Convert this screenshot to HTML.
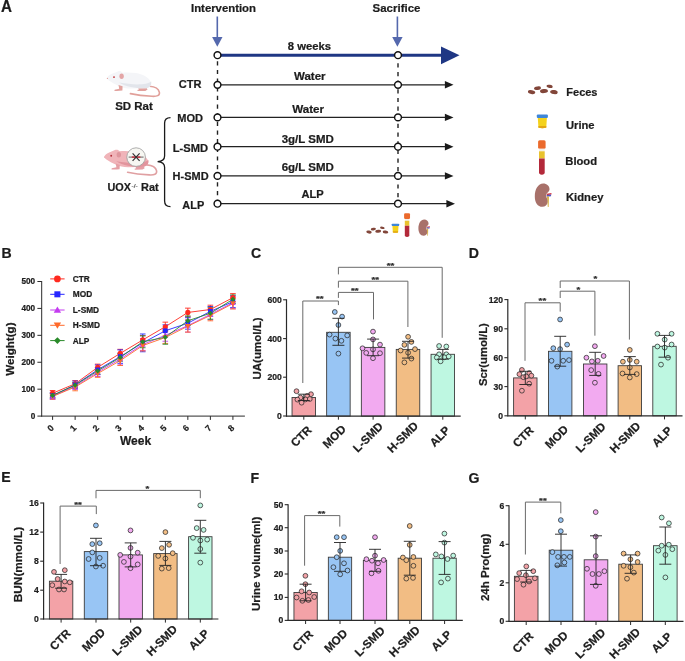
<!DOCTYPE html>
<html><head><meta charset="utf-8"><style>
html,body{margin:0;padding:0;background:#fff;}
body{width:685px;height:661px;overflow:hidden;}
svg{display:block;font-family:"Liberation Sans", sans-serif;will-change:transform;}
text{stroke:#1c1c1c;stroke-width:0.22px;paint-order:stroke;}
</style></head><body>
<svg width="685" height="661" viewBox="0 0 685 661">
<rect width="685" height="661" fill="#fff"/>
<text transform="translate(0.9,11.75) scale(1,1.075)" font-size="15.2" font-weight="bold" fill="#1c1c1c">A</text>
<text x="191" y="11.8" font-size="11" font-weight="bold" fill="#1c1c1c" textLength="65" lengthAdjust="spacingAndGlyphs">Intervention</text>
<text x="372.6" y="11.8" font-size="11" font-weight="bold" fill="#1c1c1c" textLength="47.8" lengthAdjust="spacingAndGlyphs">Sacrifice</text>
<line x1="217.3" y1="16.5" x2="217.3" y2="38" stroke="#5468ad" stroke-width="1.6"/>
<path d="M212.10000000000002,37 L222.5,37 L217.3,46.8 Z" fill="#5468ad"/>
<line x1="397.4" y1="16.5" x2="397.4" y2="38" stroke="#5468ad" stroke-width="1.6"/>
<path d="M392.2,37 L402.59999999999997,37 L397.4,46.8 Z" fill="#5468ad"/>
<line x1="217.5" y1="55.2" x2="442" y2="55.2" stroke="#1f3784" stroke-width="2.9"/>
<path d="M441,46.4 L459.5,55.3 L441,64.3 Z" fill="#1f3784"/>
<line x1="217.5" y1="61.25" x2="217.5" y2="201" stroke="#222" stroke-width="1.4" stroke-dasharray="4.2,4.45"/>
<line x1="398.0" y1="63.3" x2="398.0" y2="201" stroke="#222" stroke-width="1.4" stroke-dasharray="4.2,4.45"/>
<line x1="217.5" y1="84.8" x2="447.5" y2="84.8" stroke="#222" stroke-width="1.3"/>
<path d="M444.9,81.1 L453.5,84.8 L444.9,88.5 Z" fill="#1a1a1a"/>
<line x1="217.5" y1="117.4" x2="447.5" y2="117.4" stroke="#222" stroke-width="1.3"/>
<path d="M444.9,113.7 L453.5,117.4 L444.9,121.10000000000001 Z" fill="#1a1a1a"/>
<line x1="217.5" y1="146.7" x2="447.5" y2="146.7" stroke="#222" stroke-width="1.3"/>
<path d="M444.9,143.0 L453.5,146.7 L444.9,150.39999999999998 Z" fill="#1a1a1a"/>
<line x1="217.5" y1="175.9" x2="447.5" y2="175.9" stroke="#222" stroke-width="1.3"/>
<path d="M444.9,172.20000000000002 L453.5,175.9 L444.9,179.6 Z" fill="#1a1a1a"/>
<line x1="217.5" y1="203.7" x2="449" y2="203.7" stroke="#222" stroke-width="1.3"/>
<path d="M446.4,200.0 L455,203.7 L446.4,207.39999999999998 Z" fill="#1a1a1a"/>
<circle cx="217.5" cy="55.2" r="3.4" fill="#fff" stroke="#111" stroke-width="1.45"/>
<circle cx="398.0" cy="55.2" r="3.4" fill="#fff" stroke="#111" stroke-width="1.45"/>
<circle cx="217.5" cy="84.8" r="3.4" fill="#fff" stroke="#111" stroke-width="1.45"/>
<circle cx="398.0" cy="84.8" r="3.4" fill="#fff" stroke="#111" stroke-width="1.45"/>
<circle cx="217.5" cy="117.4" r="3.4" fill="#fff" stroke="#111" stroke-width="1.45"/>
<circle cx="398.0" cy="117.4" r="3.4" fill="#fff" stroke="#111" stroke-width="1.45"/>
<circle cx="217.5" cy="146.7" r="3.4" fill="#fff" stroke="#111" stroke-width="1.45"/>
<circle cx="398.0" cy="146.7" r="3.4" fill="#fff" stroke="#111" stroke-width="1.45"/>
<circle cx="217.5" cy="175.9" r="3.4" fill="#fff" stroke="#111" stroke-width="1.45"/>
<circle cx="398.0" cy="175.9" r="3.4" fill="#fff" stroke="#111" stroke-width="1.45"/>
<circle cx="217.5" cy="203.7" r="3.4" fill="#fff" stroke="#111" stroke-width="1.45"/>
<circle cx="398.0" cy="203.7" r="3.4" fill="#fff" stroke="#111" stroke-width="1.45"/>
<text x="178.8" y="88.3" font-size="11" font-weight="bold" fill="#1c1c1c" textLength="22.7" lengthAdjust="spacingAndGlyphs">CTR</text>
<text x="177.2" y="121.9" font-size="11" font-weight="bold" fill="#1c1c1c" textLength="25.8" lengthAdjust="spacingAndGlyphs">MOD</text>
<text x="172.8" y="152.0" font-size="11" font-weight="bold" fill="#1c1c1c" textLength="35.3" lengthAdjust="spacingAndGlyphs">L-SMD</text>
<text x="172.6" y="180.4" font-size="11" font-weight="bold" fill="#1c1c1c" textLength="36.0" lengthAdjust="spacingAndGlyphs">H-SMD</text>
<text x="182.3" y="209.2" font-size="11" font-weight="bold" fill="#1c1c1c" textLength="21.9" lengthAdjust="spacingAndGlyphs">ALP</text>
<text x="287.8" y="50.2" font-size="10.6" font-weight="bold" fill="#1c1c1c" textLength="43.2" lengthAdjust="spacingAndGlyphs">8 weeks</text>
<text x="294" y="79.8" font-size="10.6" font-weight="bold" fill="#1c1c1c" textLength="31.5" lengthAdjust="spacingAndGlyphs">Water</text>
<text x="292.2" y="112.8" font-size="10.6" font-weight="bold" fill="#1c1c1c" textLength="31.8" lengthAdjust="spacingAndGlyphs">Water</text>
<text x="281.7" y="142.6" font-size="10.6" font-weight="bold" fill="#1c1c1c" textLength="52.1" lengthAdjust="spacingAndGlyphs">3g/L SMD</text>
<text x="281.7" y="170.6" font-size="10.6" font-weight="bold" fill="#1c1c1c" textLength="52.1" lengthAdjust="spacingAndGlyphs">6g/L SMD</text>
<text x="301.4" y="197.8" font-size="10.6" font-weight="bold" fill="#1c1c1c" textLength="22.2" lengthAdjust="spacingAndGlyphs">ALP</text>
<path d="M170.5,117.6 C166.5,117.6 164.6,119.5 164.6,123 L164.6,156 C164.6,159.6 162.5,161.3 157.6,161.6 C162.5,161.9 164.6,163.6 164.6,167.2 L164.6,201 C164.6,204.5 166.5,206.6 170.5,206.6" fill="none" stroke="#1a1a1a" stroke-width="1.3"/>
<g transform="translate(0,0)"><path d="M149.5,86.3 C154,86.6 158.6,88.6 159.4,92.3 C159.9,95.5 157,96.6 152,96.3 C146,96 138,95.3 130.4,93.6" fill="none" stroke="#e1a09a" stroke-width="1.6" stroke-linecap="round"/><path d="M137.5,87 L146,86.6 L147.5,89.6 L145.3,90.9 L137.8,91.1 C137,90.5 137.3,89.8 139,89.6 Z" fill="#e2a29e"/><path d="M107.1,78.3 C107.6,76.4 109.5,74.6 112.5,73.6 C114.5,72.9 116.5,71.8 118.3,71.2 C120,70.7 121.6,71.5 122.6,72.7 C126,72.2 131,72.3 136,73.0 C142.5,74 148.5,77.2 150.6,81.5 C151.8,84.5 150.5,87.6 146.5,88.2 L131,88.6 C126,88.6 122,87.6 119,86.2 C115.5,84.6 111.5,82.3 109.3,80.8 C108.2,80.1 107.3,79.3 107.1,78.3 Z" fill="#f4f5f8"/><path d="M119,82.6 C127,87.8 140,88.8 146.5,88.2 C150.5,87.3 151.7,84.5 151.2,81.5 C147,84.6 136,85.6 119,82.6 Z" fill="#e2e5eb"/><path d="M118.5,85 L122.6,86.3 L122.4,90.6 C119,91 116,91.1 114.4,90.8 C113.9,89.8 115,89.3 117,89.2 L119.2,88.7 Z" fill="#e2a29e"/><ellipse cx="121.6" cy="76.2" rx="2.2" ry="2.7" fill="#e3a5a6"/><circle cx="114" cy="77.1" r="0.95" fill="#c0353a"/><circle cx="107.4" cy="78.4" r="0.6" fill="#e2a29e"/></g>
<text x="115.2" y="109.6" font-size="11" font-weight="bold" fill="#1c1c1c" textLength="37.6" lengthAdjust="spacingAndGlyphs">SD Rat</text>
<g transform="translate(-2.8,78.6)"><path d="M149.5,86.3 C154,86.6 158.6,88.6 159.4,92.3 C159.9,95.5 157,96.6 152,96.3 C146,96 138,95.3 130.4,93.6" fill="none" stroke="#e0a0a2" stroke-width="1.6" stroke-linecap="round"/><path d="M137.5,87 L146,86.6 L147.5,89.6 L145.3,90.9 L137.8,91.1 C137,90.5 137.3,89.8 139,89.6 Z" fill="#e59fa5"/><path d="M107.1,78.3 C107.6,76.4 109.5,74.6 112.5,73.6 C114.5,72.9 116.5,71.8 118.3,71.2 C120,70.7 121.6,71.5 122.6,72.7 C126,72.2 131,72.3 136,73.0 C142.5,74 148.5,77.2 150.6,81.5 C151.8,84.5 150.5,87.6 146.5,88.2 L131,88.6 C126,88.6 122,87.6 119,86.2 C115.5,84.6 111.5,82.3 109.3,80.8 C108.2,80.1 107.3,79.3 107.1,78.3 Z" fill="#f0b4b9"/><path d="M119,82.6 C127,87.8 140,88.8 146.5,88.2 C150.5,87.3 151.7,84.5 151.2,81.5 C147,84.6 136,85.6 119,82.6 Z" fill="#e2949d"/><path d="M118.5,85 L122.6,86.3 L122.4,90.6 C119,91 116,91.1 114.4,90.8 C113.9,89.8 115,89.3 117,89.2 L119.2,88.7 Z" fill="#e59fa5"/><ellipse cx="121.6" cy="76.2" rx="2.2" ry="2.7" fill="#de959c"/><circle cx="114" cy="77.1" r="0.95" fill="#b0303a"/><circle cx="107.4" cy="78.4" r="0.6" fill="#e59fa5"/></g>
<circle cx="136.1" cy="157.1" r="9.3" fill="#f7f7f2" stroke="#9a9a9a" stroke-width="0.8"/>
<line x1="128.6" y1="157.1" x2="143.6" y2="157.1" stroke="#555" stroke-width="0.9"/>
<line x1="131.8" y1="157.1" x2="140.4" y2="157.1" stroke="#d02838" stroke-width="1.4"/>
<path d="M132.6,153.4 L139.6,160.8 M139.6,153.4 L132.6,160.8" stroke="#333" stroke-width="1.2"/>
<text x="107.4" y="191" font-size="11" font-weight="bold" fill="#1c1c1c" textLength="23.5" lengthAdjust="spacingAndGlyphs">UOX</text>
<text x="131.6" y="187.9" font-size="5.4" font-weight="normal" fill="#333" textLength="6.2" lengthAdjust="spacingAndGlyphs" style="stroke-width:0.1px">-/-</text>
<text x="141.0" y="191" font-size="11" font-weight="bold" fill="#1c1c1c" textLength="17.6" lengthAdjust="spacingAndGlyphs">Rat</text>
<ellipse cx="531.60" cy="92.10" rx="3.70" ry="2.00" fill="#82463a" transform="rotate(12 531.60 92.10)"/>
<ellipse cx="537.50" cy="88.20" rx="3.50" ry="1.80" fill="#82463a" transform="rotate(-8 537.50 88.20)"/>
<ellipse cx="544.00" cy="91.10" rx="4.00" ry="2.00" fill="#82463a" transform="rotate(-6 544.00 91.10)"/>
<ellipse cx="549.60" cy="86.40" rx="3.10" ry="1.60" fill="#82463a" transform="rotate(10 549.60 86.40)"/>
<ellipse cx="553.90" cy="92.10" rx="3.80" ry="2.00" fill="#82463a" transform="rotate(8 553.90 92.10)"/>
<path d="M537.80,117.80 L546.90,117.80 L546.30,127.70 Q542.35,128.60 538.40,127.70 Z" fill="#f4d21c"/>
<path d="M538.40,125.90 L546.30,125.90 L546.20,127.70 Q542.35,128.60 538.50,127.70 Z" fill="#e2a514"/>
<rect x="536.80" y="114.40" width="11.10" height="3.60" rx="1.00" fill="#3f86d8"/>
<rect x="538.10" y="140.30" width="7.50" height="8.50" rx="1.50" fill="#eb6a2c"/>
<rect x="539.00" y="148.80" width="5.70" height="2.60" fill="#f4f0e8"/>
<rect x="539.00" y="151.30" width="5.70" height="7.20" fill="#e9c22e"/>
<path d="M539.00,158.40 L544.70,158.40 L544.70,173.30 Q541.85,176.30 539.00,173.30 Z" fill="#b3293a"/>
<path d="M546.60,193.70 L551.50,192.90 L551.40,194.50 L546.80,195.20 Z" fill="#d8333b"/>
<path d="M546.60,195.00 L551.20,194.50 L551.00,196.30 L546.80,196.70 Z" fill="#5558c0"/>
<path d="M546.90,196.40 L549.00,196.40 L548.70,206.90 L547.80,206.90 Z" fill="#d9b44a"/>
<path d="M543.20,183.40 C546.70,183.40 549.70,185.90 549.50,189.40 C549.30,191.90 546.20,192.90 546.10,195.20 C546.00,197.40 547.80,198.90 547.60,201.90 C547.40,204.90 545.20,206.80 542.30,206.80 C537.70,206.80 534.80,202.40 534.80,196.40 C534.80,188.90 538.20,183.40 543.20,183.40 Z" fill="#a8716a"/>
<text x="566.3" y="95.8" font-size="11" font-weight="bold" fill="#1c1c1c" textLength="31.2" lengthAdjust="spacingAndGlyphs">Feces</text>
<text x="566" y="128.6" font-size="11" font-weight="bold" fill="#1c1c1c" textLength="28.6" lengthAdjust="spacingAndGlyphs">Urine</text>
<text x="565.3" y="165" font-size="11" font-weight="bold" fill="#1c1c1c" textLength="31.8" lengthAdjust="spacingAndGlyphs">Blood</text>
<text x="566" y="201.4" font-size="11" font-weight="bold" fill="#1c1c1c" textLength="37.4" lengthAdjust="spacingAndGlyphs">Kidney</text>
<ellipse cx="369.00" cy="232.02" rx="2.74" ry="1.48" fill="#82463a" transform="rotate(12 369.00 232.02)"/>
<ellipse cx="373.37" cy="229.13" rx="2.59" ry="1.33" fill="#82463a" transform="rotate(-8 373.37 229.13)"/>
<ellipse cx="378.18" cy="231.28" rx="2.96" ry="1.48" fill="#82463a" transform="rotate(-6 378.18 231.28)"/>
<ellipse cx="382.32" cy="227.80" rx="2.29" ry="1.18" fill="#82463a" transform="rotate(10 382.32 227.80)"/>
<ellipse cx="385.50" cy="232.02" rx="2.81" ry="1.48" fill="#82463a" transform="rotate(8 385.50 232.02)"/>
<path d="M392.46,225.94 L398.47,225.94 L398.07,232.48 Q395.46,233.07 392.86,232.48 Z" fill="#f4d21c"/>
<path d="M392.86,231.29 L398.07,231.29 L398.00,232.48 Q395.46,233.07 392.92,232.48 Z" fill="#e2a514"/>
<rect x="391.80" y="223.70" width="7.33" height="2.38" rx="0.66" fill="#3f86d8"/>
<rect x="404.10" y="213.20" width="5.93" height="5.86" rx="1.19" fill="#eb6a2c"/>
<rect x="404.81" y="219.06" width="4.50" height="1.79" fill="#f4f0e8"/>
<rect x="404.81" y="220.79" width="4.50" height="4.97" fill="#e9c22e"/>
<path d="M404.81,225.69 L409.31,225.69 L409.31,235.97 Q407.06,238.04 404.81,235.97 Z" fill="#b3293a"/>
<path d="M426.56,226.71 L429.94,226.16 L429.87,227.26 L426.69,227.74 Z" fill="#d8333b"/>
<path d="M426.56,227.60 L429.73,227.26 L429.59,228.50 L426.69,228.78 Z" fill="#5558c0"/>
<path d="M426.76,228.57 L428.21,228.57 L428.00,235.81 L427.38,235.81 Z" fill="#d9b44a"/>
<path d="M424.21,219.60 C426.62,219.60 428.69,221.32 428.56,223.74 C428.42,225.47 426.28,226.16 426.21,227.74 C426.14,229.26 427.38,230.29 427.25,232.36 C427.11,234.44 425.59,235.75 423.59,235.75 C420.42,235.75 418.41,232.71 418.41,228.57 C418.41,223.39 420.76,219.60 424.21,219.60 Z" fill="#a8716a"/>
<text x="1.5" y="258" font-size="14.1" font-weight="bold" fill="#1c1c1c">B</text>
<line x1="41.7" y1="281" x2="41.7" y2="416.6" stroke="#2a2a2a" stroke-width="1"/>
<line x1="41.2" y1="416.1" x2="244.9" y2="416.1" stroke="#2a2a2a" stroke-width="1"/>
<line x1="37.400000000000006" y1="416.1" x2="41.7" y2="416.1" stroke="#2a2a2a" stroke-width="1"/>
<text x="35.2" y="419.0" font-size="8.2" font-weight="bold" fill="#1c1c1c" text-anchor="end">0</text>
<line x1="37.400000000000006" y1="389.18" x2="41.7" y2="389.18" stroke="#2a2a2a" stroke-width="1"/>
<text x="35.2" y="392.08" font-size="8.2" font-weight="bold" fill="#1c1c1c" text-anchor="end">100</text>
<line x1="37.400000000000006" y1="362.26000000000005" x2="41.7" y2="362.26000000000005" stroke="#2a2a2a" stroke-width="1"/>
<text x="35.2" y="365.16" font-size="8.2" font-weight="bold" fill="#1c1c1c" text-anchor="end">200</text>
<line x1="37.400000000000006" y1="335.34000000000003" x2="41.7" y2="335.34000000000003" stroke="#2a2a2a" stroke-width="1"/>
<text x="35.2" y="338.24" font-size="8.2" font-weight="bold" fill="#1c1c1c" text-anchor="end">300</text>
<line x1="37.400000000000006" y1="308.42" x2="41.7" y2="308.42" stroke="#2a2a2a" stroke-width="1"/>
<text x="35.2" y="311.32" font-size="8.2" font-weight="bold" fill="#1c1c1c" text-anchor="end">400</text>
<line x1="37.400000000000006" y1="281.5" x2="41.7" y2="281.5" stroke="#2a2a2a" stroke-width="1"/>
<text x="35.2" y="284.4" font-size="8.2" font-weight="bold" fill="#1c1c1c" text-anchor="end">500</text>
<line x1="52.6" y1="416.1" x2="52.6" y2="419.90000000000003" stroke="#2a2a2a" stroke-width="1"/>
<g transform="translate(50.60,428.0) rotate(-45)"><text x="0" y="3.1" font-size="8.8" font-weight="bold" fill="#1c1c1c" text-anchor="middle">0</text></g>
<line x1="75.14" y1="416.1" x2="75.14" y2="419.90000000000003" stroke="#2a2a2a" stroke-width="1"/>
<g transform="translate(73.14,428.0) rotate(-45)"><text x="0" y="3.1" font-size="8.8" font-weight="bold" fill="#1c1c1c" text-anchor="middle">1</text></g>
<line x1="97.68" y1="416.1" x2="97.68" y2="419.90000000000003" stroke="#2a2a2a" stroke-width="1"/>
<g transform="translate(95.68,428.0) rotate(-45)"><text x="0" y="3.1" font-size="8.8" font-weight="bold" fill="#1c1c1c" text-anchor="middle">2</text></g>
<line x1="120.22" y1="416.1" x2="120.22" y2="419.90000000000003" stroke="#2a2a2a" stroke-width="1"/>
<g transform="translate(118.22,428.0) rotate(-45)"><text x="0" y="3.1" font-size="8.8" font-weight="bold" fill="#1c1c1c" text-anchor="middle">3</text></g>
<line x1="142.76" y1="416.1" x2="142.76" y2="419.90000000000003" stroke="#2a2a2a" stroke-width="1"/>
<g transform="translate(140.76,428.0) rotate(-45)"><text x="0" y="3.1" font-size="8.8" font-weight="bold" fill="#1c1c1c" text-anchor="middle">4</text></g>
<line x1="165.29999999999998" y1="416.1" x2="165.29999999999998" y2="419.90000000000003" stroke="#2a2a2a" stroke-width="1"/>
<g transform="translate(163.30,428.0) rotate(-45)"><text x="0" y="3.1" font-size="8.8" font-weight="bold" fill="#1c1c1c" text-anchor="middle">5</text></g>
<line x1="187.84" y1="416.1" x2="187.84" y2="419.90000000000003" stroke="#2a2a2a" stroke-width="1"/>
<g transform="translate(185.84,428.0) rotate(-45)"><text x="0" y="3.1" font-size="8.8" font-weight="bold" fill="#1c1c1c" text-anchor="middle">6</text></g>
<line x1="210.38" y1="416.1" x2="210.38" y2="419.90000000000003" stroke="#2a2a2a" stroke-width="1"/>
<g transform="translate(208.38,428.0) rotate(-45)"><text x="0" y="3.1" font-size="8.8" font-weight="bold" fill="#1c1c1c" text-anchor="middle">7</text></g>
<line x1="232.92" y1="416.1" x2="232.92" y2="419.90000000000003" stroke="#2a2a2a" stroke-width="1"/>
<g transform="translate(230.92,428.0) rotate(-45)"><text x="0" y="3.1" font-size="8.8" font-weight="bold" fill="#1c1c1c" text-anchor="middle">8</text></g>
<text x="135.5" y="445.3" font-size="12.0" font-weight="bold" fill="#1c1c1c" text-anchor="middle">Week</text>
<g transform="translate(13.6,349.1) rotate(-90)"><text x="0" y="0" font-size="11.6" font-weight="bold" fill="#1c1c1c" text-anchor="middle">Weight(g)</text></g>
<polyline points="52.60,393.22 75.14,383.80 97.68,367.37 120.22,353.38 142.76,339.92 165.30,326.73 187.84,312.46 210.38,309.50 232.92,297.65" fill="none" stroke="#ff2a1f" stroke-width="0.9"/>
<line x1="52.6" y1="390.526" x2="52.6" y2="395.91" stroke="#ff2a1f" stroke-width="0.9"/>
<line x1="49.800000000000004" y1="390.526" x2="55.4" y2="390.526" stroke="#ff2a1f" stroke-width="0.9"/>
<line x1="49.800000000000004" y1="395.91" x2="55.4" y2="395.91" stroke="#ff2a1f" stroke-width="0.9"/>
<line x1="75.14" y1="380.5656000000001" x2="75.14" y2="387.0264" stroke="#ff2a1f" stroke-width="0.9"/>
<line x1="72.34" y1="380.5656000000001" x2="77.94" y2="380.5656000000001" stroke="#ff2a1f" stroke-width="0.9"/>
<line x1="72.34" y1="387.0264" x2="77.94" y2="387.0264" stroke="#ff2a1f" stroke-width="0.9"/>
<line x1="97.68" y1="364.1444000000001" x2="97.68" y2="370.6052" stroke="#ff2a1f" stroke-width="0.9"/>
<line x1="94.88000000000001" y1="364.1444000000001" x2="100.48" y2="364.1444000000001" stroke="#ff2a1f" stroke-width="0.9"/>
<line x1="94.88000000000001" y1="370.6052" x2="100.48" y2="370.6052" stroke="#ff2a1f" stroke-width="0.9"/>
<line x1="120.22" y1="349.33840000000004" x2="120.22" y2="357.41440000000006" stroke="#ff2a1f" stroke-width="0.9"/>
<line x1="117.42" y1="349.33840000000004" x2="123.02" y2="349.33840000000004" stroke="#ff2a1f" stroke-width="0.9"/>
<line x1="117.42" y1="357.41440000000006" x2="123.02" y2="357.41440000000006" stroke="#ff2a1f" stroke-width="0.9"/>
<line x1="142.76" y1="335.6092" x2="142.76" y2="344.22360000000003" stroke="#ff2a1f" stroke-width="0.9"/>
<line x1="139.95999999999998" y1="335.6092" x2="145.56" y2="335.6092" stroke="#ff2a1f" stroke-width="0.9"/>
<line x1="139.95999999999998" y1="344.22360000000003" x2="145.56" y2="344.22360000000003" stroke="#ff2a1f" stroke-width="0.9"/>
<line x1="165.29999999999998" y1="322.14920000000006" x2="165.29999999999998" y2="331.302" stroke="#ff2a1f" stroke-width="0.9"/>
<line x1="162.49999999999997" y1="322.14920000000006" x2="168.1" y2="322.14920000000006" stroke="#ff2a1f" stroke-width="0.9"/>
<line x1="162.49999999999997" y1="331.302" x2="168.1" y2="331.302" stroke="#ff2a1f" stroke-width="0.9"/>
<line x1="187.84" y1="308.1508" x2="187.84" y2="316.76520000000005" stroke="#ff2a1f" stroke-width="0.9"/>
<line x1="185.04" y1="308.1508" x2="190.64000000000001" y2="308.1508" stroke="#ff2a1f" stroke-width="0.9"/>
<line x1="185.04" y1="316.76520000000005" x2="190.64000000000001" y2="316.76520000000005" stroke="#ff2a1f" stroke-width="0.9"/>
<line x1="210.38" y1="305.1896" x2="210.38" y2="313.80400000000003" stroke="#ff2a1f" stroke-width="0.9"/>
<line x1="207.57999999999998" y1="305.1896" x2="213.18" y2="305.1896" stroke="#ff2a1f" stroke-width="0.9"/>
<line x1="207.57999999999998" y1="313.80400000000003" x2="213.18" y2="313.80400000000003" stroke="#ff2a1f" stroke-width="0.9"/>
<line x1="232.92" y1="293.61400000000003" x2="232.92" y2="301.69000000000005" stroke="#ff2a1f" stroke-width="0.9"/>
<line x1="230.11999999999998" y1="293.61400000000003" x2="235.72" y2="293.61400000000003" stroke="#ff2a1f" stroke-width="0.9"/>
<line x1="230.11999999999998" y1="301.69000000000005" x2="235.72" y2="301.69000000000005" stroke="#ff2a1f" stroke-width="0.9"/>
<polyline points="52.60,395.64 75.14,384.87 97.68,369.80 120.22,356.61 142.76,342.88 165.30,330.76 187.84,323.23 210.38,311.38 232.92,301.69" fill="none" stroke="#2626ff" stroke-width="0.9"/>
<line x1="52.6" y1="392.9488" x2="52.6" y2="398.3328" stroke="#2626ff" stroke-width="0.9"/>
<line x1="49.800000000000004" y1="392.9488" x2="55.4" y2="392.9488" stroke="#2626ff" stroke-width="0.9"/>
<line x1="49.800000000000004" y1="398.3328" x2="55.4" y2="398.3328" stroke="#2626ff" stroke-width="0.9"/>
<line x1="75.14" y1="381.10400000000004" x2="75.14" y2="388.64160000000004" stroke="#2626ff" stroke-width="0.9"/>
<line x1="72.34" y1="381.10400000000004" x2="77.94" y2="381.10400000000004" stroke="#2626ff" stroke-width="0.9"/>
<line x1="72.34" y1="388.64160000000004" x2="77.94" y2="388.64160000000004" stroke="#2626ff" stroke-width="0.9"/>
<line x1="97.68" y1="364.95200000000006" x2="97.68" y2="374.64320000000004" stroke="#2626ff" stroke-width="0.9"/>
<line x1="94.88000000000001" y1="364.95200000000006" x2="100.48" y2="364.95200000000006" stroke="#2626ff" stroke-width="0.9"/>
<line x1="94.88000000000001" y1="374.64320000000004" x2="100.48" y2="374.64320000000004" stroke="#2626ff" stroke-width="0.9"/>
<line x1="120.22" y1="349.8768" x2="120.22" y2="363.33680000000004" stroke="#2626ff" stroke-width="0.9"/>
<line x1="117.42" y1="349.8768" x2="123.02" y2="349.8768" stroke="#2626ff" stroke-width="0.9"/>
<line x1="117.42" y1="363.33680000000004" x2="123.02" y2="363.33680000000004" stroke="#2626ff" stroke-width="0.9"/>
<line x1="142.76" y1="333.994" x2="142.76" y2="351.76120000000003" stroke="#2626ff" stroke-width="0.9"/>
<line x1="139.95999999999998" y1="333.994" x2="145.56" y2="333.994" stroke="#2626ff" stroke-width="0.9"/>
<line x1="139.95999999999998" y1="351.76120000000003" x2="145.56" y2="351.76120000000003" stroke="#2626ff" stroke-width="0.9"/>
<line x1="165.29999999999998" y1="324.8412" x2="165.29999999999998" y2="336.686" stroke="#2626ff" stroke-width="0.9"/>
<line x1="162.49999999999997" y1="324.8412" x2="168.1" y2="324.8412" stroke="#2626ff" stroke-width="0.9"/>
<line x1="162.49999999999997" y1="336.686" x2="168.1" y2="336.686" stroke="#2626ff" stroke-width="0.9"/>
<line x1="187.84" y1="317.3036" x2="187.84" y2="329.1484" stroke="#2626ff" stroke-width="0.9"/>
<line x1="185.04" y1="317.3036" x2="190.64000000000001" y2="317.3036" stroke="#2626ff" stroke-width="0.9"/>
<line x1="185.04" y1="329.1484" x2="190.64000000000001" y2="329.1484" stroke="#2626ff" stroke-width="0.9"/>
<line x1="210.38" y1="306.53560000000004" x2="210.38" y2="316.2268" stroke="#2626ff" stroke-width="0.9"/>
<line x1="207.57999999999998" y1="306.53560000000004" x2="213.18" y2="306.53560000000004" stroke="#2626ff" stroke-width="0.9"/>
<line x1="207.57999999999998" y1="316.2268" x2="213.18" y2="316.2268" stroke="#2626ff" stroke-width="0.9"/>
<line x1="232.92" y1="295.7676000000001" x2="232.92" y2="307.61240000000004" stroke="#2626ff" stroke-width="0.9"/>
<line x1="230.11999999999998" y1="295.7676000000001" x2="235.72" y2="295.7676000000001" stroke="#2626ff" stroke-width="0.9"/>
<line x1="230.11999999999998" y1="307.61240000000004" x2="235.72" y2="307.61240000000004" stroke="#2626ff" stroke-width="0.9"/>
<polyline points="52.60,396.18 75.14,386.22 97.68,372.22 120.22,359.03 142.76,344.49 165.30,335.34 187.84,325.65 210.38,314.34 232.92,302.77" fill="none" stroke="#c43cf0" stroke-width="0.9"/>
<line x1="52.6" y1="392.94880000000006" x2="52.6" y2="399.4096" stroke="#c43cf0" stroke-width="0.9"/>
<line x1="49.800000000000004" y1="392.94880000000006" x2="55.4" y2="392.94880000000006" stroke="#c43cf0" stroke-width="0.9"/>
<line x1="49.800000000000004" y1="399.4096" x2="55.4" y2="399.4096" stroke="#c43cf0" stroke-width="0.9"/>
<line x1="75.14" y1="382.98840000000007" x2="75.14" y2="389.4492" stroke="#c43cf0" stroke-width="0.9"/>
<line x1="72.34" y1="382.98840000000007" x2="77.94" y2="382.98840000000007" stroke="#c43cf0" stroke-width="0.9"/>
<line x1="72.34" y1="389.4492" x2="77.94" y2="389.4492" stroke="#c43cf0" stroke-width="0.9"/>
<line x1="97.68" y1="367.9132" x2="97.68" y2="376.52760000000006" stroke="#c43cf0" stroke-width="0.9"/>
<line x1="94.88000000000001" y1="367.9132" x2="100.48" y2="367.9132" stroke="#c43cf0" stroke-width="0.9"/>
<line x1="94.88000000000001" y1="376.52760000000006" x2="100.48" y2="376.52760000000006" stroke="#c43cf0" stroke-width="0.9"/>
<line x1="120.22" y1="353.10720000000003" x2="120.22" y2="364.952" stroke="#c43cf0" stroke-width="0.9"/>
<line x1="117.42" y1="353.10720000000003" x2="123.02" y2="353.10720000000003" stroke="#c43cf0" stroke-width="0.9"/>
<line x1="117.42" y1="364.952" x2="123.02" y2="364.952" stroke="#c43cf0" stroke-width="0.9"/>
<line x1="142.76" y1="338.57040000000006" x2="142.76" y2="350.4152" stroke="#c43cf0" stroke-width="0.9"/>
<line x1="139.95999999999998" y1="338.57040000000006" x2="145.56" y2="338.57040000000006" stroke="#c43cf0" stroke-width="0.9"/>
<line x1="139.95999999999998" y1="350.4152" x2="145.56" y2="350.4152" stroke="#c43cf0" stroke-width="0.9"/>
<line x1="165.29999999999998" y1="329.41760000000005" x2="165.29999999999998" y2="341.2624" stroke="#c43cf0" stroke-width="0.9"/>
<line x1="162.49999999999997" y1="329.41760000000005" x2="168.1" y2="329.41760000000005" stroke="#c43cf0" stroke-width="0.9"/>
<line x1="162.49999999999997" y1="341.2624" x2="168.1" y2="341.2624" stroke="#c43cf0" stroke-width="0.9"/>
<line x1="187.84" y1="319.18800000000005" x2="187.84" y2="332.10960000000006" stroke="#c43cf0" stroke-width="0.9"/>
<line x1="185.04" y1="319.18800000000005" x2="190.64000000000001" y2="319.18800000000005" stroke="#c43cf0" stroke-width="0.9"/>
<line x1="185.04" y1="332.10960000000006" x2="190.64000000000001" y2="332.10960000000006" stroke="#c43cf0" stroke-width="0.9"/>
<line x1="210.38" y1="308.9584" x2="210.38" y2="319.7264" stroke="#c43cf0" stroke-width="0.9"/>
<line x1="207.57999999999998" y1="308.9584" x2="213.18" y2="308.9584" stroke="#c43cf0" stroke-width="0.9"/>
<line x1="207.57999999999998" y1="319.7264" x2="213.18" y2="319.7264" stroke="#c43cf0" stroke-width="0.9"/>
<line x1="232.92" y1="296.84440000000006" x2="232.92" y2="308.6892" stroke="#c43cf0" stroke-width="0.9"/>
<line x1="230.11999999999998" y1="296.84440000000006" x2="235.72" y2="296.84440000000006" stroke="#c43cf0" stroke-width="0.9"/>
<line x1="230.11999999999998" y1="308.6892" x2="235.72" y2="308.6892" stroke="#c43cf0" stroke-width="0.9"/>
<polyline points="52.60,396.45 75.14,387.03 97.68,373.57 120.22,360.64 142.76,345.57 165.30,337.49 187.84,326.19 210.38,315.42 232.92,303.57" fill="none" stroke="#ff6a2a" stroke-width="0.9"/>
<line x1="52.6" y1="393.75640000000004" x2="52.6" y2="399.14040000000006" stroke="#ff6a2a" stroke-width="0.9"/>
<line x1="49.800000000000004" y1="393.75640000000004" x2="55.4" y2="393.75640000000004" stroke="#ff6a2a" stroke-width="0.9"/>
<line x1="49.800000000000004" y1="399.14040000000006" x2="55.4" y2="399.14040000000006" stroke="#ff6a2a" stroke-width="0.9"/>
<line x1="75.14" y1="383.2576" x2="75.14" y2="390.7952" stroke="#ff6a2a" stroke-width="0.9"/>
<line x1="72.34" y1="383.2576" x2="77.94" y2="383.2576" stroke="#ff6a2a" stroke-width="0.9"/>
<line x1="72.34" y1="390.7952" x2="77.94" y2="390.7952" stroke="#ff6a2a" stroke-width="0.9"/>
<line x1="97.68" y1="369.79760000000005" x2="97.68" y2="377.33520000000004" stroke="#ff6a2a" stroke-width="0.9"/>
<line x1="94.88000000000001" y1="369.79760000000005" x2="100.48" y2="369.79760000000005" stroke="#ff6a2a" stroke-width="0.9"/>
<line x1="94.88000000000001" y1="377.33520000000004" x2="100.48" y2="377.33520000000004" stroke="#ff6a2a" stroke-width="0.9"/>
<line x1="120.22" y1="355.79920000000004" x2="120.22" y2="365.4904" stroke="#ff6a2a" stroke-width="0.9"/>
<line x1="117.42" y1="355.79920000000004" x2="123.02" y2="355.79920000000004" stroke="#ff6a2a" stroke-width="0.9"/>
<line x1="117.42" y1="365.4904" x2="123.02" y2="365.4904" stroke="#ff6a2a" stroke-width="0.9"/>
<line x1="142.76" y1="340.1856" x2="142.76" y2="350.95360000000005" stroke="#ff6a2a" stroke-width="0.9"/>
<line x1="139.95999999999998" y1="340.1856" x2="145.56" y2="340.1856" stroke="#ff6a2a" stroke-width="0.9"/>
<line x1="139.95999999999998" y1="350.95360000000005" x2="145.56" y2="350.95360000000005" stroke="#ff6a2a" stroke-width="0.9"/>
<line x1="165.29999999999998" y1="331.57120000000003" x2="165.29999999999998" y2="343.416" stroke="#ff6a2a" stroke-width="0.9"/>
<line x1="162.49999999999997" y1="331.57120000000003" x2="168.1" y2="331.57120000000003" stroke="#ff6a2a" stroke-width="0.9"/>
<line x1="162.49999999999997" y1="343.416" x2="168.1" y2="343.416" stroke="#ff6a2a" stroke-width="0.9"/>
<line x1="187.84" y1="320.26480000000004" x2="187.84" y2="332.1096" stroke="#ff6a2a" stroke-width="0.9"/>
<line x1="185.04" y1="320.26480000000004" x2="190.64000000000001" y2="320.26480000000004" stroke="#ff6a2a" stroke-width="0.9"/>
<line x1="185.04" y1="332.1096" x2="190.64000000000001" y2="332.1096" stroke="#ff6a2a" stroke-width="0.9"/>
<line x1="210.38" y1="310.03520000000003" x2="210.38" y2="320.80320000000006" stroke="#ff6a2a" stroke-width="0.9"/>
<line x1="207.57999999999998" y1="310.03520000000003" x2="213.18" y2="310.03520000000003" stroke="#ff6a2a" stroke-width="0.9"/>
<line x1="207.57999999999998" y1="320.80320000000006" x2="213.18" y2="320.80320000000006" stroke="#ff6a2a" stroke-width="0.9"/>
<line x1="232.92" y1="298.1904" x2="232.92" y2="308.95840000000004" stroke="#ff6a2a" stroke-width="0.9"/>
<line x1="230.11999999999998" y1="298.1904" x2="235.72" y2="298.1904" stroke="#ff6a2a" stroke-width="0.9"/>
<line x1="230.11999999999998" y1="308.95840000000004" x2="235.72" y2="308.95840000000004" stroke="#ff6a2a" stroke-width="0.9"/>
<polyline points="52.60,395.37 75.14,385.14 97.68,370.87 120.22,357.41 142.76,341.80 165.30,337.22 187.84,320.80 210.38,313.27 232.92,299.27" fill="none" stroke="#2a8a2a" stroke-width="0.9"/>
<line x1="52.6" y1="393.218" x2="52.6" y2="397.5252" stroke="#2a8a2a" stroke-width="0.9"/>
<line x1="49.800000000000004" y1="393.218" x2="55.4" y2="393.218" stroke="#2a8a2a" stroke-width="0.9"/>
<line x1="49.800000000000004" y1="397.5252" x2="55.4" y2="397.5252" stroke="#2a8a2a" stroke-width="0.9"/>
<line x1="75.14" y1="382.45000000000005" x2="75.14" y2="387.83400000000006" stroke="#2a8a2a" stroke-width="0.9"/>
<line x1="72.34" y1="382.45000000000005" x2="77.94" y2="382.45000000000005" stroke="#2a8a2a" stroke-width="0.9"/>
<line x1="72.34" y1="387.83400000000006" x2="77.94" y2="387.83400000000006" stroke="#2a8a2a" stroke-width="0.9"/>
<line x1="97.68" y1="367.64400000000006" x2="97.68" y2="374.1048" stroke="#2a8a2a" stroke-width="0.9"/>
<line x1="94.88000000000001" y1="367.64400000000006" x2="100.48" y2="367.64400000000006" stroke="#2a8a2a" stroke-width="0.9"/>
<line x1="94.88000000000001" y1="374.1048" x2="100.48" y2="374.1048" stroke="#2a8a2a" stroke-width="0.9"/>
<line x1="120.22" y1="353.6456" x2="120.22" y2="361.1832" stroke="#2a8a2a" stroke-width="0.9"/>
<line x1="117.42" y1="353.6456" x2="123.02" y2="353.6456" stroke="#2a8a2a" stroke-width="0.9"/>
<line x1="117.42" y1="361.1832" x2="123.02" y2="361.1832" stroke="#2a8a2a" stroke-width="0.9"/>
<line x1="142.76" y1="335.87840000000006" x2="142.76" y2="347.7232" stroke="#2a8a2a" stroke-width="0.9"/>
<line x1="139.95999999999998" y1="335.87840000000006" x2="145.56" y2="335.87840000000006" stroke="#2a8a2a" stroke-width="0.9"/>
<line x1="139.95999999999998" y1="347.7232" x2="145.56" y2="347.7232" stroke="#2a8a2a" stroke-width="0.9"/>
<line x1="165.29999999999998" y1="330.2252000000001" x2="165.29999999999998" y2="344.22360000000003" stroke="#2a8a2a" stroke-width="0.9"/>
<line x1="162.49999999999997" y1="330.2252000000001" x2="168.1" y2="330.2252000000001" stroke="#2a8a2a" stroke-width="0.9"/>
<line x1="162.49999999999997" y1="344.22360000000003" x2="168.1" y2="344.22360000000003" stroke="#2a8a2a" stroke-width="0.9"/>
<line x1="187.84" y1="315.9576" x2="187.84" y2="325.6488" stroke="#2a8a2a" stroke-width="0.9"/>
<line x1="185.04" y1="315.9576" x2="190.64000000000001" y2="315.9576" stroke="#2a8a2a" stroke-width="0.9"/>
<line x1="185.04" y1="325.6488" x2="190.64000000000001" y2="325.6488" stroke="#2a8a2a" stroke-width="0.9"/>
<line x1="210.38" y1="307.3432" x2="210.38" y2="319.188" stroke="#2a8a2a" stroke-width="0.9"/>
<line x1="207.57999999999998" y1="307.3432" x2="213.18" y2="307.3432" stroke="#2a8a2a" stroke-width="0.9"/>
<line x1="207.57999999999998" y1="319.188" x2="213.18" y2="319.188" stroke="#2a8a2a" stroke-width="0.9"/>
<line x1="232.92" y1="294.96" x2="232.92" y2="303.5744" stroke="#2a8a2a" stroke-width="0.9"/>
<line x1="230.11999999999998" y1="294.96" x2="235.72" y2="294.96" stroke="#2a8a2a" stroke-width="0.9"/>
<line x1="230.11999999999998" y1="303.5744" x2="235.72" y2="303.5744" stroke="#2a8a2a" stroke-width="0.9"/>
<circle cx="52.60" cy="393.22" r="2.6" fill="#ff2a1f"/>
<circle cx="75.14" cy="383.80" r="2.6" fill="#ff2a1f"/>
<circle cx="97.68" cy="367.37" r="2.6" fill="#ff2a1f"/>
<circle cx="120.22" cy="353.38" r="2.6" fill="#ff2a1f"/>
<circle cx="142.76" cy="339.92" r="2.6" fill="#ff2a1f"/>
<circle cx="165.30" cy="326.73" r="2.6" fill="#ff2a1f"/>
<circle cx="187.84" cy="312.46" r="2.6" fill="#ff2a1f"/>
<circle cx="210.38" cy="309.50" r="2.6" fill="#ff2a1f"/>
<circle cx="232.92" cy="297.65" r="2.6" fill="#ff2a1f"/>
<rect x="50.26" y="393.30" width="4.68" height="4.68" fill="#2626ff"/>
<rect x="72.80" y="382.53" width="4.68" height="4.68" fill="#2626ff"/>
<rect x="95.34" y="367.46" width="4.68" height="4.68" fill="#2626ff"/>
<rect x="117.88" y="354.27" width="4.68" height="4.68" fill="#2626ff"/>
<rect x="140.42" y="340.54" width="4.68" height="4.68" fill="#2626ff"/>
<rect x="162.96" y="328.42" width="4.68" height="4.68" fill="#2626ff"/>
<rect x="185.50" y="320.89" width="4.68" height="4.68" fill="#2626ff"/>
<rect x="208.04" y="309.04" width="4.68" height="4.68" fill="#2626ff"/>
<rect x="230.58" y="299.35" width="4.68" height="4.68" fill="#2626ff"/>
<path d="M52.60,393.45 L55.46,398.39 L49.74,398.39 Z" fill="#c43cf0"/>
<path d="M75.14,383.49 L78.00,388.43 L72.28,388.43 Z" fill="#c43cf0"/>
<path d="M97.68,369.49 L100.54,374.43 L94.82,374.43 Z" fill="#c43cf0"/>
<path d="M120.22,356.30 L123.08,361.24 L117.36,361.24 Z" fill="#c43cf0"/>
<path d="M142.76,341.76 L145.62,346.70 L139.90,346.70 Z" fill="#c43cf0"/>
<path d="M165.30,332.61 L168.16,337.55 L162.44,337.55 Z" fill="#c43cf0"/>
<path d="M187.84,322.92 L190.70,327.86 L184.98,327.86 Z" fill="#c43cf0"/>
<path d="M210.38,311.61 L213.24,316.55 L207.52,316.55 Z" fill="#c43cf0"/>
<path d="M232.92,300.04 L235.78,304.98 L230.06,304.98 Z" fill="#c43cf0"/>
<path d="M52.60,399.18 L55.46,394.24 L49.74,394.24 Z" fill="#ff6a2a"/>
<path d="M75.14,389.76 L78.00,384.82 L72.28,384.82 Z" fill="#ff6a2a"/>
<path d="M97.68,376.30 L100.54,371.36 L94.82,371.36 Z" fill="#ff6a2a"/>
<path d="M120.22,363.37 L123.08,358.43 L117.36,358.43 Z" fill="#ff6a2a"/>
<path d="M142.76,348.30 L145.62,343.36 L139.90,343.36 Z" fill="#ff6a2a"/>
<path d="M165.30,340.22 L168.16,335.28 L162.44,335.28 Z" fill="#ff6a2a"/>
<path d="M187.84,328.92 L190.70,323.98 L184.98,323.98 Z" fill="#ff6a2a"/>
<path d="M210.38,318.15 L213.24,313.21 L207.52,313.21 Z" fill="#ff6a2a"/>
<path d="M232.92,306.30 L235.78,301.36 L230.06,301.36 Z" fill="#ff6a2a"/>
<path d="M52.60,392.77 L55.20,395.37 L52.60,397.97 L50.00,395.37 Z" fill="#2a8a2a"/>
<path d="M75.14,382.54 L77.74,385.14 L75.14,387.74 L72.54,385.14 Z" fill="#2a8a2a"/>
<path d="M97.68,368.27 L100.28,370.87 L97.68,373.47 L95.08,370.87 Z" fill="#2a8a2a"/>
<path d="M120.22,354.81 L122.82,357.41 L120.22,360.01 L117.62,357.41 Z" fill="#2a8a2a"/>
<path d="M142.76,339.20 L145.36,341.80 L142.76,344.40 L140.16,341.80 Z" fill="#2a8a2a"/>
<path d="M165.30,334.62 L167.90,337.22 L165.30,339.82 L162.70,337.22 Z" fill="#2a8a2a"/>
<path d="M187.84,318.20 L190.44,320.80 L187.84,323.40 L185.24,320.80 Z" fill="#2a8a2a"/>
<path d="M210.38,310.67 L212.98,313.27 L210.38,315.87 L207.78,313.27 Z" fill="#2a8a2a"/>
<path d="M232.92,296.67 L235.52,299.27 L232.92,301.87 L230.32,299.27 Z" fill="#2a8a2a"/>
<line x1="50.2" y1="278.9" x2="64.6" y2="278.9" stroke="#ff2a1f" stroke-width="1"/>
<circle cx="57.40" cy="278.90" r="3.35" fill="#ff2a1f"/>
<text x="72.8" y="281.9" font-size="8.3" font-weight="bold" fill="#1c1c1c">CTR</text>
<line x1="50.2" y1="294.3" x2="64.6" y2="294.3" stroke="#2626ff" stroke-width="1"/>
<rect x="54.38" y="291.29" width="6.03" height="6.03" fill="#2626ff"/>
<text x="72.8" y="297.3" font-size="8.3" font-weight="bold" fill="#1c1c1c">MOD</text>
<line x1="50.2" y1="310.0" x2="64.6" y2="310.0" stroke="#c43cf0" stroke-width="1"/>
<path d="M57.40,306.48 L61.09,312.85 L53.71,312.85 Z" fill="#c43cf0"/>
<text x="72.8" y="313.0" font-size="8.3" font-weight="bold" fill="#1c1c1c">L-SMD</text>
<line x1="50.2" y1="325.3" x2="64.6" y2="325.3" stroke="#ff6a2a" stroke-width="1"/>
<path d="M57.40,328.82 L61.09,322.45 L53.71,322.45 Z" fill="#ff6a2a"/>
<text x="72.8" y="328.3" font-size="8.3" font-weight="bold" fill="#1c1c1c">H-SMD</text>
<line x1="50.2" y1="340.6" x2="64.6" y2="340.6" stroke="#2a8a2a" stroke-width="1"/>
<path d="M57.40,337.25 L60.75,340.60 L57.40,343.95 L54.05,340.60 Z" fill="#2a8a2a"/>
<text x="72.8" y="343.6" font-size="8.3" font-weight="bold" fill="#1c1c1c">ALP</text>
<text x="251.0" y="258.0" font-size="14.1" font-weight="bold" fill="#1c1c1c">C</text>
<path d="M302.8,383.0 L302.8,301.0 L338.4,301.0 L338.4,305.1" fill="none" stroke="#6a6a6a" stroke-width="1"/>
<text x="319.8" y="301.4" font-size="7.6" font-weight="bold" fill="#2a2a2a" text-anchor="middle" textLength="7.6" lengthAdjust="spacingAndGlyphs">**</text>
<path d="M338.4,297.9 L338.4,292.4 L373.5,292.4 L373.5,319.4" fill="none" stroke="#6a6a6a" stroke-width="1"/>
<text x="354.7" y="292.8" font-size="7.6" font-weight="bold" fill="#2a2a2a" text-anchor="middle" textLength="7.6" lengthAdjust="spacingAndGlyphs">**</text>
<path d="M338.4,287.7 L338.4,281.2 L407.9,281.2 L407.9,327.0" fill="none" stroke="#6a6a6a" stroke-width="1"/>
<text x="375.2" y="281.6" font-size="7.6" font-weight="bold" fill="#2a2a2a" text-anchor="middle" textLength="7.6" lengthAdjust="spacingAndGlyphs">**</text>
<path d="M338.4,274.4 L338.4,267.3 L442.2,267.3 L442.2,337.8" fill="none" stroke="#6a6a6a" stroke-width="1"/>
<text x="390.5" y="267.7" font-size="7.6" font-weight="bold" fill="#2a2a2a" text-anchor="middle" textLength="7.6" lengthAdjust="spacingAndGlyphs">**</text>
<rect x="292.05" y="397.5" width="23.5" height="18.60" fill="#f3a2a7" stroke="#3c3c3c" stroke-width="0.9"/>
<rect x="326.65" y="332.3" width="23.5" height="83.80" fill="#98c5f4" stroke="#3c3c3c" stroke-width="0.9"/>
<rect x="361.35" y="347.4" width="23.5" height="68.70" fill="#f2aaf0" stroke="#3c3c3c" stroke-width="0.9"/>
<rect x="396.25" y="349.4" width="23.5" height="66.70" fill="#f2bd84" stroke="#3c3c3c" stroke-width="0.9"/>
<rect x="431.05" y="354.3" width="23.5" height="61.80" fill="#bef7e1" stroke="#3c3c3c" stroke-width="0.9"/>
<circle cx="296.5" cy="391.2" r="2.4" fill="#f3a2a7" stroke="#2a2a2a" stroke-width="0.75"/>
<circle cx="311" cy="394.2" r="2.4" fill="#f3a2a7" stroke="#2a2a2a" stroke-width="0.75"/>
<circle cx="307.1" cy="396" r="2.4" fill="#f3a2a7" stroke="#2a2a2a" stroke-width="0.75"/>
<circle cx="300.4" cy="397.6" r="2.4" fill="#f3a2a7" stroke="#2a2a2a" stroke-width="0.75"/>
<circle cx="297.4" cy="399.6" r="2.4" fill="#f3a2a7" stroke="#2a2a2a" stroke-width="0.75"/>
<circle cx="305.6" cy="399.4" r="2.4" fill="#f3a2a7" stroke="#2a2a2a" stroke-width="0.75"/>
<circle cx="309.8" cy="399" r="2.4" fill="#f3a2a7" stroke="#2a2a2a" stroke-width="0.75"/>
<circle cx="301.6" cy="402.7" r="2.4" fill="#f3a2a7" stroke="#2a2a2a" stroke-width="0.75"/>
<circle cx="334.8" cy="312" r="2.4" fill="#98c5f4" stroke="#2a2a2a" stroke-width="0.75"/>
<circle cx="342.1" cy="316.6" r="2.4" fill="#98c5f4" stroke="#2a2a2a" stroke-width="0.75"/>
<circle cx="338.4" cy="325" r="2.4" fill="#98c5f4" stroke="#2a2a2a" stroke-width="0.75"/>
<circle cx="329.6" cy="334.6" r="2.4" fill="#98c5f4" stroke="#2a2a2a" stroke-width="0.75"/>
<circle cx="347.2" cy="335.4" r="2.4" fill="#98c5f4" stroke="#2a2a2a" stroke-width="0.75"/>
<circle cx="335.4" cy="338.6" r="2.4" fill="#98c5f4" stroke="#2a2a2a" stroke-width="0.75"/>
<circle cx="341.4" cy="340.8" r="2.4" fill="#98c5f4" stroke="#2a2a2a" stroke-width="0.75"/>
<circle cx="338.4" cy="353.6" r="2.4" fill="#98c5f4" stroke="#2a2a2a" stroke-width="0.75"/>
<circle cx="373" cy="331.6" r="2.4" fill="#f2aaf0" stroke="#2a2a2a" stroke-width="0.75"/>
<circle cx="373" cy="339.4" r="2.4" fill="#f2aaf0" stroke="#2a2a2a" stroke-width="0.75"/>
<circle cx="380" cy="344.6" r="2.4" fill="#f2aaf0" stroke="#2a2a2a" stroke-width="0.75"/>
<circle cx="362.5" cy="348.3" r="2.4" fill="#f2aaf0" stroke="#2a2a2a" stroke-width="0.75"/>
<circle cx="373" cy="349.4" r="2.4" fill="#f2aaf0" stroke="#2a2a2a" stroke-width="0.75"/>
<circle cx="366.2" cy="352.9" r="2.4" fill="#f2aaf0" stroke="#2a2a2a" stroke-width="0.75"/>
<circle cx="380" cy="353.2" r="2.4" fill="#f2aaf0" stroke="#2a2a2a" stroke-width="0.75"/>
<circle cx="373" cy="358.2" r="2.4" fill="#f2aaf0" stroke="#2a2a2a" stroke-width="0.75"/>
<circle cx="408.1" cy="336.8" r="2.4" fill="#f2bd84" stroke="#2a2a2a" stroke-width="0.75"/>
<circle cx="411.4" cy="341.9" r="2.4" fill="#f2bd84" stroke="#2a2a2a" stroke-width="0.75"/>
<circle cx="404.4" cy="344.9" r="2.4" fill="#f2bd84" stroke="#2a2a2a" stroke-width="0.75"/>
<circle cx="400.6" cy="350.5" r="2.4" fill="#f2bd84" stroke="#2a2a2a" stroke-width="0.75"/>
<circle cx="415" cy="349.1" r="2.4" fill="#f2bd84" stroke="#2a2a2a" stroke-width="0.75"/>
<circle cx="408.1" cy="352.7" r="2.4" fill="#f2bd84" stroke="#2a2a2a" stroke-width="0.75"/>
<circle cx="411.4" cy="358.6" r="2.4" fill="#f2bd84" stroke="#2a2a2a" stroke-width="0.75"/>
<circle cx="404.4" cy="362.4" r="2.4" fill="#f2bd84" stroke="#2a2a2a" stroke-width="0.75"/>
<circle cx="439.1" cy="346" r="2.4" fill="#bef7e1" stroke="#2a2a2a" stroke-width="0.75"/>
<circle cx="446.3" cy="346.5" r="2.4" fill="#bef7e1" stroke="#2a2a2a" stroke-width="0.75"/>
<circle cx="439.1" cy="354.3" r="2.4" fill="#bef7e1" stroke="#2a2a2a" stroke-width="0.75"/>
<circle cx="446.3" cy="354.3" r="2.4" fill="#bef7e1" stroke="#2a2a2a" stroke-width="0.75"/>
<circle cx="436.8" cy="357.5" r="2.4" fill="#bef7e1" stroke="#2a2a2a" stroke-width="0.75"/>
<circle cx="444.3" cy="357.3" r="2.4" fill="#bef7e1" stroke="#2a2a2a" stroke-width="0.75"/>
<circle cx="448.7" cy="356.5" r="2.4" fill="#bef7e1" stroke="#2a2a2a" stroke-width="0.75"/>
<circle cx="440.6" cy="361.3" r="2.4" fill="#bef7e1" stroke="#2a2a2a" stroke-width="0.75"/>
<line x1="303.8" y1="394.2" x2="303.8" y2="400.5" stroke="#222" stroke-width="0.9"/>
<line x1="297.8" y1="394.2" x2="309.8" y2="394.2" stroke="#222" stroke-width="0.9"/>
<line x1="297.8" y1="400.5" x2="309.8" y2="400.5" stroke="#222" stroke-width="0.9"/>
<line x1="338.4" y1="318.3" x2="338.4" y2="345.3" stroke="#222" stroke-width="0.9"/>
<line x1="332.4" y1="318.3" x2="344.4" y2="318.3" stroke="#222" stroke-width="0.9"/>
<line x1="332.4" y1="345.3" x2="344.4" y2="345.3" stroke="#222" stroke-width="0.9"/>
<line x1="373.1" y1="339.1" x2="373.1" y2="355.7" stroke="#222" stroke-width="0.9"/>
<line x1="367.1" y1="339.1" x2="379.1" y2="339.1" stroke="#222" stroke-width="0.9"/>
<line x1="367.1" y1="355.7" x2="379.1" y2="355.7" stroke="#222" stroke-width="0.9"/>
<line x1="408.0" y1="341.3" x2="408.0" y2="358.1" stroke="#222" stroke-width="0.9"/>
<line x1="402.0" y1="341.3" x2="414.0" y2="341.3" stroke="#222" stroke-width="0.9"/>
<line x1="402.0" y1="358.1" x2="414.0" y2="358.1" stroke="#222" stroke-width="0.9"/>
<line x1="442.8" y1="349.4" x2="442.8" y2="359.2" stroke="#222" stroke-width="0.9"/>
<line x1="436.8" y1="349.4" x2="448.8" y2="349.4" stroke="#222" stroke-width="0.9"/>
<line x1="436.8" y1="359.2" x2="448.8" y2="359.2" stroke="#222" stroke-width="0.9"/>
<line x1="286.5" y1="299.3" x2="286.5" y2="416.6" stroke="#2a2a2a" stroke-width="1.2"/>
<line x1="286.0" y1="416.1" x2="460.7" y2="416.1" stroke="#2a2a2a" stroke-width="1.2"/>
<line x1="283.1" y1="299.8" x2="286.5" y2="299.8" stroke="#2a2a2a" stroke-width="1.1"/>
<text x="281.8" y="302.8" font-size="8.6" font-weight="bold" fill="#1c1c1c" text-anchor="end">600</text>
<line x1="283.1" y1="338.6" x2="286.5" y2="338.6" stroke="#2a2a2a" stroke-width="1.1"/>
<text x="281.8" y="341.6" font-size="8.6" font-weight="bold" fill="#1c1c1c" text-anchor="end">400</text>
<line x1="283.1" y1="377.2" x2="286.5" y2="377.2" stroke="#2a2a2a" stroke-width="1.1"/>
<text x="281.8" y="380.2" font-size="8.6" font-weight="bold" fill="#1c1c1c" text-anchor="end">200</text>
<line x1="283.1" y1="416.0" x2="286.5" y2="416.0" stroke="#2a2a2a" stroke-width="1.1"/>
<text x="281.8" y="419.0" font-size="8.6" font-weight="bold" fill="#1c1c1c" text-anchor="end">0</text>
<line x1="303.8" y1="416.1" x2="303.8" y2="419.70000000000005" stroke="#2a2a2a" stroke-width="1"/>
<g transform="translate(301.05,436.35) rotate(-45)"><text x="0" y="4.0" font-size="11.6" font-weight="bold" fill="#1c1c1c" text-anchor="middle">CTR</text></g>
<line x1="338.4" y1="416.1" x2="338.4" y2="419.70000000000005" stroke="#2a2a2a" stroke-width="1"/>
<g transform="translate(334.25,436.55) rotate(-45)"><text x="0" y="4.0" font-size="11.6" font-weight="bold" fill="#1c1c1c" text-anchor="middle">MOD</text></g>
<line x1="373.1" y1="416.1" x2="373.1" y2="419.70000000000005" stroke="#2a2a2a" stroke-width="1"/>
<g transform="translate(367.95,437.15) rotate(-45)"><text x="0" y="4.0" font-size="11.6" font-weight="bold" fill="#1c1c1c" text-anchor="middle">L-SMD</text></g>
<line x1="408.0" y1="416.1" x2="408.0" y2="419.70000000000005" stroke="#2a2a2a" stroke-width="1"/>
<g transform="translate(402.65,437.15) rotate(-45)"><text x="0" y="4.0" font-size="11.6" font-weight="bold" fill="#1c1c1c" text-anchor="middle">H-SMD</text></g>
<line x1="442.8" y1="416.1" x2="442.8" y2="419.70000000000005" stroke="#2a2a2a" stroke-width="1"/>
<g transform="translate(439.75,436.35) rotate(-45)"><text x="0" y="4.0" font-size="11.6" font-weight="bold" fill="#1c1c1c" text-anchor="middle">ALP</text></g>
<g transform="translate(260.7,348.5) rotate(-90)"><text x="0" y="0" font-size="11.6" font-weight="bold" fill="#1c1c1c" text-anchor="middle" textLength="62" lengthAdjust="spacingAndGlyphs">UA(umol/L)</text></g>
<text x="468.8" y="258.1" font-size="14.1" font-weight="bold" fill="#1c1c1c">D</text>
<path d="M525.0,360.8 L525.0,302.8 L560.2,302.8 L560.2,311.6" fill="none" stroke="#6a6a6a" stroke-width="1"/>
<text x="542.4" y="303.2" font-size="7.6" font-weight="bold" fill="#2a2a2a" text-anchor="middle" textLength="7.6" lengthAdjust="spacingAndGlyphs">**</text>
<path d="M560.2,298.0 L560.2,291.2 L594.9,291.2 L594.9,335.7" fill="none" stroke="#6a6a6a" stroke-width="1"/>
<text x="578.3" y="291.6" font-size="7.6" font-weight="bold" fill="#2a2a2a" text-anchor="middle" textLength="3.8" lengthAdjust="spacingAndGlyphs">*</text>
<path d="M560.2,288.0 L560.2,281.0 L629.4,281.0 L629.4,339.6" fill="none" stroke="#6a6a6a" stroke-width="1"/>
<text x="595.5" y="281.4" font-size="7.6" font-weight="bold" fill="#2a2a2a" text-anchor="middle" textLength="3.8" lengthAdjust="spacingAndGlyphs">*</text>
<rect x="513.60" y="377.9" width="23.4" height="37.90" fill="#f3a2a7" stroke="#3c3c3c" stroke-width="0.9"/>
<rect x="548.50" y="351.3" width="23.4" height="64.50" fill="#98c5f4" stroke="#3c3c3c" stroke-width="0.9"/>
<rect x="583.50" y="364.0" width="23.4" height="51.80" fill="#f2aaf0" stroke="#3c3c3c" stroke-width="0.9"/>
<rect x="618.10" y="365.7" width="23.4" height="50.10" fill="#f2bd84" stroke="#3c3c3c" stroke-width="0.9"/>
<rect x="652.80" y="346.3" width="23.4" height="69.50" fill="#bef7e1" stroke="#3c3c3c" stroke-width="0.9"/>
<circle cx="521.9" cy="369.9" r="2.4" fill="#f3a2a7" stroke="#2a2a2a" stroke-width="0.75"/>
<circle cx="519.4" cy="374.2" r="2.4" fill="#f3a2a7" stroke="#2a2a2a" stroke-width="0.75"/>
<circle cx="529.2" cy="373.1" r="2.4" fill="#f3a2a7" stroke="#2a2a2a" stroke-width="0.75"/>
<circle cx="531.4" cy="375.7" r="2.4" fill="#f3a2a7" stroke="#2a2a2a" stroke-width="0.75"/>
<circle cx="523.3" cy="377.2" r="2.4" fill="#f3a2a7" stroke="#2a2a2a" stroke-width="0.75"/>
<circle cx="526.2" cy="376.4" r="2.4" fill="#f3a2a7" stroke="#2a2a2a" stroke-width="0.75"/>
<circle cx="529.2" cy="383.7" r="2.4" fill="#f3a2a7" stroke="#2a2a2a" stroke-width="0.75"/>
<circle cx="521.9" cy="390.7" r="2.4" fill="#f3a2a7" stroke="#2a2a2a" stroke-width="0.75"/>
<circle cx="560.1" cy="319.5" r="2.4" fill="#98c5f4" stroke="#2a2a2a" stroke-width="0.75"/>
<circle cx="567.1" cy="344.6" r="2.4" fill="#98c5f4" stroke="#2a2a2a" stroke-width="0.75"/>
<circle cx="553.3" cy="348.2" r="2.4" fill="#98c5f4" stroke="#2a2a2a" stroke-width="0.75"/>
<circle cx="560.1" cy="349.1" r="2.4" fill="#98c5f4" stroke="#2a2a2a" stroke-width="0.75"/>
<circle cx="551.5" cy="360.8" r="2.4" fill="#98c5f4" stroke="#2a2a2a" stroke-width="0.75"/>
<circle cx="563.2" cy="360.8" r="2.4" fill="#98c5f4" stroke="#2a2a2a" stroke-width="0.75"/>
<circle cx="569" cy="360.1" r="2.4" fill="#98c5f4" stroke="#2a2a2a" stroke-width="0.75"/>
<circle cx="557.3" cy="366.6" r="2.4" fill="#98c5f4" stroke="#2a2a2a" stroke-width="0.75"/>
<circle cx="594.9" cy="346.2" r="2.4" fill="#f2aaf0" stroke="#2a2a2a" stroke-width="0.75"/>
<circle cx="586.4" cy="357.7" r="2.4" fill="#f2aaf0" stroke="#2a2a2a" stroke-width="0.75"/>
<circle cx="603.6" cy="356" r="2.4" fill="#f2aaf0" stroke="#2a2a2a" stroke-width="0.75"/>
<circle cx="591.9" cy="361.4" r="2.4" fill="#f2aaf0" stroke="#2a2a2a" stroke-width="0.75"/>
<circle cx="597.8" cy="360.8" r="2.4" fill="#f2aaf0" stroke="#2a2a2a" stroke-width="0.75"/>
<circle cx="591.2" cy="370.1" r="2.4" fill="#f2aaf0" stroke="#2a2a2a" stroke-width="0.75"/>
<circle cx="598.5" cy="373.9" r="2.4" fill="#f2aaf0" stroke="#2a2a2a" stroke-width="0.75"/>
<circle cx="594.9" cy="382.7" r="2.4" fill="#f2aaf0" stroke="#2a2a2a" stroke-width="0.75"/>
<circle cx="629.8" cy="349.9" r="2.4" fill="#f2bd84" stroke="#2a2a2a" stroke-width="0.75"/>
<circle cx="622.9" cy="361.7" r="2.4" fill="#f2bd84" stroke="#2a2a2a" stroke-width="0.75"/>
<circle cx="629.8" cy="359.9" r="2.4" fill="#f2bd84" stroke="#2a2a2a" stroke-width="0.75"/>
<circle cx="636.7" cy="361.7" r="2.4" fill="#f2bd84" stroke="#2a2a2a" stroke-width="0.75"/>
<circle cx="629.8" cy="367.5" r="2.4" fill="#f2bd84" stroke="#2a2a2a" stroke-width="0.75"/>
<circle cx="622.5" cy="373.5" r="2.4" fill="#f2bd84" stroke="#2a2a2a" stroke-width="0.75"/>
<circle cx="636.7" cy="374.1" r="2.4" fill="#f2bd84" stroke="#2a2a2a" stroke-width="0.75"/>
<circle cx="629.8" cy="377.5" r="2.4" fill="#f2bd84" stroke="#2a2a2a" stroke-width="0.75"/>
<circle cx="657.4" cy="333.8" r="2.4" fill="#bef7e1" stroke="#2a2a2a" stroke-width="0.75"/>
<circle cx="671.6" cy="333.8" r="2.4" fill="#bef7e1" stroke="#2a2a2a" stroke-width="0.75"/>
<circle cx="664.7" cy="339.6" r="2.4" fill="#bef7e1" stroke="#2a2a2a" stroke-width="0.75"/>
<circle cx="657.4" cy="346.5" r="2.4" fill="#bef7e1" stroke="#2a2a2a" stroke-width="0.75"/>
<circle cx="664.7" cy="347.6" r="2.4" fill="#bef7e1" stroke="#2a2a2a" stroke-width="0.75"/>
<circle cx="671.6" cy="344.5" r="2.4" fill="#bef7e1" stroke="#2a2a2a" stroke-width="0.75"/>
<circle cx="668" cy="357.7" r="2.4" fill="#bef7e1" stroke="#2a2a2a" stroke-width="0.75"/>
<circle cx="661" cy="364.6" r="2.4" fill="#bef7e1" stroke="#2a2a2a" stroke-width="0.75"/>
<line x1="525.3" y1="371.3" x2="525.3" y2="384.5" stroke="#222" stroke-width="0.9"/>
<line x1="519.3" y1="371.3" x2="531.3" y2="371.3" stroke="#222" stroke-width="0.9"/>
<line x1="519.3" y1="384.5" x2="531.3" y2="384.5" stroke="#222" stroke-width="0.9"/>
<line x1="560.2" y1="336.3" x2="560.2" y2="366.2" stroke="#222" stroke-width="0.9"/>
<line x1="554.2" y1="336.3" x2="566.2" y2="336.3" stroke="#222" stroke-width="0.9"/>
<line x1="554.2" y1="366.2" x2="566.2" y2="366.2" stroke="#222" stroke-width="0.9"/>
<line x1="595.2" y1="352.3" x2="595.2" y2="375.4" stroke="#222" stroke-width="0.9"/>
<line x1="589.2" y1="352.3" x2="601.2" y2="352.3" stroke="#222" stroke-width="0.9"/>
<line x1="589.2" y1="375.4" x2="601.2" y2="375.4" stroke="#222" stroke-width="0.9"/>
<line x1="629.8" y1="356.6" x2="629.8" y2="374.4" stroke="#222" stroke-width="0.9"/>
<line x1="623.8" y1="356.6" x2="635.8" y2="356.6" stroke="#222" stroke-width="0.9"/>
<line x1="623.8" y1="374.4" x2="635.8" y2="374.4" stroke="#222" stroke-width="0.9"/>
<line x1="664.5" y1="335.4" x2="664.5" y2="357.2" stroke="#222" stroke-width="0.9"/>
<line x1="658.5" y1="335.4" x2="670.5" y2="335.4" stroke="#222" stroke-width="0.9"/>
<line x1="658.5" y1="357.2" x2="670.5" y2="357.2" stroke="#222" stroke-width="0.9"/>
<line x1="507.8" y1="299.1" x2="507.8" y2="416.3" stroke="#2a2a2a" stroke-width="1.2"/>
<line x1="507.3" y1="415.8" x2="682.5" y2="415.8" stroke="#2a2a2a" stroke-width="1.2"/>
<line x1="504.40000000000003" y1="299.6" x2="507.8" y2="299.6" stroke="#2a2a2a" stroke-width="1.1"/>
<text x="503.1" y="302.6" font-size="8.6" font-weight="bold" fill="#1c1c1c" text-anchor="end">120</text>
<line x1="504.40000000000003" y1="328.8" x2="507.8" y2="328.8" stroke="#2a2a2a" stroke-width="1.1"/>
<text x="503.1" y="331.8" font-size="8.6" font-weight="bold" fill="#1c1c1c" text-anchor="end">90</text>
<line x1="504.40000000000003" y1="357.7" x2="507.8" y2="357.7" stroke="#2a2a2a" stroke-width="1.1"/>
<text x="503.1" y="360.7" font-size="8.6" font-weight="bold" fill="#1c1c1c" text-anchor="end">60</text>
<line x1="504.40000000000003" y1="386.6" x2="507.8" y2="386.6" stroke="#2a2a2a" stroke-width="1.1"/>
<text x="503.1" y="389.6" font-size="8.6" font-weight="bold" fill="#1c1c1c" text-anchor="end">30</text>
<line x1="504.40000000000003" y1="415.8" x2="507.8" y2="415.8" stroke="#2a2a2a" stroke-width="1.1"/>
<text x="503.1" y="418.8" font-size="8.6" font-weight="bold" fill="#1c1c1c" text-anchor="end">0</text>
<line x1="525.3" y1="415.8" x2="525.3" y2="419.40000000000003" stroke="#2a2a2a" stroke-width="1"/>
<g transform="translate(523.10,436.65) rotate(-45)"><text x="0" y="4.0" font-size="11.6" font-weight="bold" fill="#1c1c1c" text-anchor="middle">CTR</text></g>
<line x1="560.2" y1="415.8" x2="560.2" y2="419.40000000000003" stroke="#2a2a2a" stroke-width="1"/>
<g transform="translate(556.60,436.85) rotate(-45)"><text x="0" y="4.0" font-size="11.6" font-weight="bold" fill="#1c1c1c" text-anchor="middle">MOD</text></g>
<line x1="595.2" y1="415.8" x2="595.2" y2="419.40000000000003" stroke="#2a2a2a" stroke-width="1"/>
<g transform="translate(590.60,437.45) rotate(-45)"><text x="0" y="4.0" font-size="11.6" font-weight="bold" fill="#1c1c1c" text-anchor="middle">L-SMD</text></g>
<line x1="629.8" y1="415.8" x2="629.8" y2="419.40000000000003" stroke="#2a2a2a" stroke-width="1"/>
<g transform="translate(625.00,437.45) rotate(-45)"><text x="0" y="4.0" font-size="11.6" font-weight="bold" fill="#1c1c1c" text-anchor="middle">H-SMD</text></g>
<line x1="664.5" y1="415.8" x2="664.5" y2="419.40000000000003" stroke="#2a2a2a" stroke-width="1"/>
<g transform="translate(662.00,436.65) rotate(-45)"><text x="0" y="4.0" font-size="11.6" font-weight="bold" fill="#1c1c1c" text-anchor="middle">ALP</text></g>
<g transform="translate(486.9,354.6) rotate(-90)"><text x="0" y="0" font-size="11.6" font-weight="bold" fill="#1c1c1c" text-anchor="middle" textLength="62.8" lengthAdjust="spacingAndGlyphs">Scr(umol/L)</text></g>
<text x="1.2" y="482.3" font-size="14.1" font-weight="bold" fill="#1c1c1c">E</text>
<path d="M60.1,564.0 L60.1,506.1 L96.3,506.1 L96.3,514.1" fill="none" stroke="#6a6a6a" stroke-width="1"/>
<text x="78.1" y="506.5" font-size="7.6" font-weight="bold" fill="#2a2a2a" text-anchor="middle" textLength="7.6" lengthAdjust="spacingAndGlyphs">**</text>
<path d="M96.0,498.3 L96.0,490.4 L200.3,490.4 L200.3,498.2" fill="none" stroke="#6a6a6a" stroke-width="1"/>
<text x="147.3" y="490.8" font-size="7.6" font-weight="bold" fill="#2a2a2a" text-anchor="middle" textLength="3.8" lengthAdjust="spacingAndGlyphs">*</text>
<rect x="49.40" y="581.2" width="23.4" height="37.80" fill="#f3a2a7" stroke="#3c3c3c" stroke-width="0.9"/>
<rect x="84.30" y="551.6" width="23.4" height="67.40" fill="#98c5f4" stroke="#3c3c3c" stroke-width="0.9"/>
<rect x="119.00" y="554.9" width="23.4" height="64.10" fill="#f2aaf0" stroke="#3c3c3c" stroke-width="0.9"/>
<rect x="153.70" y="553.6" width="23.4" height="65.40" fill="#f2bd84" stroke="#3c3c3c" stroke-width="0.9"/>
<rect x="188.60" y="536.7" width="23.4" height="82.30" fill="#bef7e1" stroke="#3c3c3c" stroke-width="0.9"/>
<circle cx="54" cy="571.9" r="2.4" fill="#f3a2a7" stroke="#2a2a2a" stroke-width="0.75"/>
<circle cx="64.8" cy="570.2" r="2.4" fill="#f3a2a7" stroke="#2a2a2a" stroke-width="0.75"/>
<circle cx="57.6" cy="579" r="2.4" fill="#f3a2a7" stroke="#2a2a2a" stroke-width="0.75"/>
<circle cx="64.8" cy="581.5" r="2.4" fill="#f3a2a7" stroke="#2a2a2a" stroke-width="0.75"/>
<circle cx="69.8" cy="582.3" r="2.4" fill="#f3a2a7" stroke="#2a2a2a" stroke-width="0.75"/>
<circle cx="52.3" cy="585.2" r="2.4" fill="#f3a2a7" stroke="#2a2a2a" stroke-width="0.75"/>
<circle cx="59" cy="589.5" r="2.4" fill="#f3a2a7" stroke="#2a2a2a" stroke-width="0.75"/>
<circle cx="64" cy="589.5" r="2.4" fill="#f3a2a7" stroke="#2a2a2a" stroke-width="0.75"/>
<circle cx="95.9" cy="525.4" r="2.4" fill="#98c5f4" stroke="#2a2a2a" stroke-width="0.75"/>
<circle cx="92.3" cy="544.1" r="2.4" fill="#98c5f4" stroke="#2a2a2a" stroke-width="0.75"/>
<circle cx="99.7" cy="543.2" r="2.4" fill="#98c5f4" stroke="#2a2a2a" stroke-width="0.75"/>
<circle cx="92.3" cy="552.4" r="2.4" fill="#98c5f4" stroke="#2a2a2a" stroke-width="0.75"/>
<circle cx="88.6" cy="559" r="2.4" fill="#98c5f4" stroke="#2a2a2a" stroke-width="0.75"/>
<circle cx="99.7" cy="557.9" r="2.4" fill="#98c5f4" stroke="#2a2a2a" stroke-width="0.75"/>
<circle cx="95.9" cy="566.5" r="2.4" fill="#98c5f4" stroke="#2a2a2a" stroke-width="0.75"/>
<circle cx="103.1" cy="565.7" r="2.4" fill="#98c5f4" stroke="#2a2a2a" stroke-width="0.75"/>
<circle cx="130.5" cy="530.4" r="2.4" fill="#f2aaf0" stroke="#2a2a2a" stroke-width="0.75"/>
<circle cx="130.5" cy="547.9" r="2.4" fill="#f2aaf0" stroke="#2a2a2a" stroke-width="0.75"/>
<circle cx="120.2" cy="554.9" r="2.4" fill="#f2aaf0" stroke="#2a2a2a" stroke-width="0.75"/>
<circle cx="130.5" cy="556.6" r="2.4" fill="#f2aaf0" stroke="#2a2a2a" stroke-width="0.75"/>
<circle cx="137.7" cy="552.7" r="2.4" fill="#f2aaf0" stroke="#2a2a2a" stroke-width="0.75"/>
<circle cx="123.9" cy="561.9" r="2.4" fill="#f2aaf0" stroke="#2a2a2a" stroke-width="0.75"/>
<circle cx="137.7" cy="564.4" r="2.4" fill="#f2aaf0" stroke="#2a2a2a" stroke-width="0.75"/>
<circle cx="130.5" cy="568.2" r="2.4" fill="#f2aaf0" stroke="#2a2a2a" stroke-width="0.75"/>
<circle cx="165.4" cy="532.1" r="2.4" fill="#f2bd84" stroke="#2a2a2a" stroke-width="0.75"/>
<circle cx="169.1" cy="544.8" r="2.4" fill="#f2bd84" stroke="#2a2a2a" stroke-width="0.75"/>
<circle cx="161.8" cy="548.1" r="2.4" fill="#f2bd84" stroke="#2a2a2a" stroke-width="0.75"/>
<circle cx="172.7" cy="553.2" r="2.4" fill="#f2bd84" stroke="#2a2a2a" stroke-width="0.75"/>
<circle cx="158.2" cy="555.9" r="2.4" fill="#f2bd84" stroke="#2a2a2a" stroke-width="0.75"/>
<circle cx="165.4" cy="558.5" r="2.4" fill="#f2bd84" stroke="#2a2a2a" stroke-width="0.75"/>
<circle cx="161.8" cy="568.6" r="2.4" fill="#f2bd84" stroke="#2a2a2a" stroke-width="0.75"/>
<circle cx="168.7" cy="568.1" r="2.4" fill="#f2bd84" stroke="#2a2a2a" stroke-width="0.75"/>
<circle cx="200.3" cy="505.4" r="2.4" fill="#bef7e1" stroke="#2a2a2a" stroke-width="0.75"/>
<circle cx="196.7" cy="528.1" r="2.4" fill="#bef7e1" stroke="#2a2a2a" stroke-width="0.75"/>
<circle cx="203.6" cy="529.9" r="2.4" fill="#bef7e1" stroke="#2a2a2a" stroke-width="0.75"/>
<circle cx="193" cy="537.8" r="2.4" fill="#bef7e1" stroke="#2a2a2a" stroke-width="0.75"/>
<circle cx="200.3" cy="540.5" r="2.4" fill="#bef7e1" stroke="#2a2a2a" stroke-width="0.75"/>
<circle cx="207.2" cy="539.6" r="2.4" fill="#bef7e1" stroke="#2a2a2a" stroke-width="0.75"/>
<circle cx="200.3" cy="549" r="2.4" fill="#bef7e1" stroke="#2a2a2a" stroke-width="0.75"/>
<circle cx="200.3" cy="562.6" r="2.4" fill="#bef7e1" stroke="#2a2a2a" stroke-width="0.75"/>
<line x1="61.1" y1="574.4" x2="61.1" y2="588.2" stroke="#222" stroke-width="0.9"/>
<line x1="55.1" y1="574.4" x2="67.1" y2="574.4" stroke="#222" stroke-width="0.9"/>
<line x1="55.1" y1="588.2" x2="67.1" y2="588.2" stroke="#222" stroke-width="0.9"/>
<line x1="96.0" y1="538.3" x2="96.0" y2="565.7" stroke="#222" stroke-width="0.9"/>
<line x1="90.0" y1="538.3" x2="102.0" y2="538.3" stroke="#222" stroke-width="0.9"/>
<line x1="90.0" y1="565.7" x2="102.0" y2="565.7" stroke="#222" stroke-width="0.9"/>
<line x1="130.7" y1="542.9" x2="130.7" y2="566.9" stroke="#222" stroke-width="0.9"/>
<line x1="124.69999999999999" y1="542.9" x2="136.7" y2="542.9" stroke="#222" stroke-width="0.9"/>
<line x1="124.69999999999999" y1="566.9" x2="136.7" y2="566.9" stroke="#222" stroke-width="0.9"/>
<line x1="165.4" y1="541.4" x2="165.4" y2="565.4" stroke="#222" stroke-width="0.9"/>
<line x1="159.4" y1="541.4" x2="171.4" y2="541.4" stroke="#222" stroke-width="0.9"/>
<line x1="159.4" y1="565.4" x2="171.4" y2="565.4" stroke="#222" stroke-width="0.9"/>
<line x1="200.3" y1="520.3" x2="200.3" y2="553.2" stroke="#222" stroke-width="0.9"/>
<line x1="194.3" y1="520.3" x2="206.3" y2="520.3" stroke="#222" stroke-width="0.9"/>
<line x1="194.3" y1="553.2" x2="206.3" y2="553.2" stroke="#222" stroke-width="0.9"/>
<line x1="43.6" y1="502.5" x2="43.6" y2="619.5" stroke="#2a2a2a" stroke-width="1.2"/>
<line x1="43.1" y1="619.0" x2="218.4" y2="619.0" stroke="#2a2a2a" stroke-width="1.2"/>
<line x1="40.2" y1="503.0" x2="43.6" y2="503.0" stroke="#2a2a2a" stroke-width="1.1"/>
<text x="38.9" y="506.0" font-size="8.6" font-weight="bold" fill="#1c1c1c" text-anchor="end">16</text>
<line x1="40.2" y1="532.1" x2="43.6" y2="532.1" stroke="#2a2a2a" stroke-width="1.1"/>
<text x="38.9" y="535.1" font-size="8.6" font-weight="bold" fill="#1c1c1c" text-anchor="end">12</text>
<line x1="40.2" y1="561.2" x2="43.6" y2="561.2" stroke="#2a2a2a" stroke-width="1.1"/>
<text x="38.9" y="564.2" font-size="8.6" font-weight="bold" fill="#1c1c1c" text-anchor="end">8</text>
<line x1="40.2" y1="590.2" x2="43.6" y2="590.2" stroke="#2a2a2a" stroke-width="1.1"/>
<text x="38.9" y="593.2" font-size="8.6" font-weight="bold" fill="#1c1c1c" text-anchor="end">4</text>
<line x1="40.2" y1="619.0" x2="43.6" y2="619.0" stroke="#2a2a2a" stroke-width="1.1"/>
<text x="38.9" y="622.0" font-size="8.6" font-weight="bold" fill="#1c1c1c" text-anchor="end">0</text>
<line x1="61.1" y1="619.0" x2="61.1" y2="622.6" stroke="#2a2a2a" stroke-width="1"/>
<g transform="translate(60.05,639.70) rotate(-45)"><text x="0" y="4.0" font-size="11.6" font-weight="bold" fill="#1c1c1c" text-anchor="middle">CTR</text></g>
<line x1="96.0" y1="619.0" x2="96.0" y2="622.6" stroke="#2a2a2a" stroke-width="1"/>
<g transform="translate(93.55,639.90) rotate(-45)"><text x="0" y="4.0" font-size="11.6" font-weight="bold" fill="#1c1c1c" text-anchor="middle">MOD</text></g>
<line x1="130.7" y1="619.0" x2="130.7" y2="622.6" stroke="#2a2a2a" stroke-width="1"/>
<g transform="translate(127.25,640.50) rotate(-45)"><text x="0" y="4.0" font-size="11.6" font-weight="bold" fill="#1c1c1c" text-anchor="middle">L-SMD</text></g>
<line x1="165.4" y1="619.0" x2="165.4" y2="622.6" stroke="#2a2a2a" stroke-width="1"/>
<g transform="translate(161.75,640.50) rotate(-45)"><text x="0" y="4.0" font-size="11.6" font-weight="bold" fill="#1c1c1c" text-anchor="middle">H-SMD</text></g>
<line x1="200.3" y1="619.0" x2="200.3" y2="622.6" stroke="#2a2a2a" stroke-width="1"/>
<g transform="translate(198.95,639.70) rotate(-45)"><text x="0" y="4.0" font-size="11.6" font-weight="bold" fill="#1c1c1c" text-anchor="middle">ALP</text></g>
<g transform="translate(21.6,564.5) rotate(-90)"><text x="0" y="0" font-size="11.6" font-weight="bold" fill="#1c1c1c" text-anchor="middle" textLength="75.4" lengthAdjust="spacingAndGlyphs">BUN(mmol/L)</text></g>
<text x="250.6" y="483.1" font-size="14.1" font-weight="bold" fill="#1c1c1c">F</text>
<path d="M304.6,565.7 L304.6,515.6 L339.8,515.6 L339.8,526.6" fill="none" stroke="#6a6a6a" stroke-width="1"/>
<text x="321.6" y="516.0" font-size="7.6" font-weight="bold" fill="#2a2a2a" text-anchor="middle" textLength="7.6" lengthAdjust="spacingAndGlyphs">**</text>
<rect x="293.95" y="592.5" width="23.3" height="27.90" fill="#f3a2a7" stroke="#3c3c3c" stroke-width="0.9"/>
<rect x="328.35" y="557.2" width="23.3" height="63.20" fill="#98c5f4" stroke="#3c3c3c" stroke-width="0.9"/>
<rect x="363.35" y="560.4" width="23.3" height="60.00" fill="#f2aaf0" stroke="#3c3c3c" stroke-width="0.9"/>
<rect x="398.15" y="558.2" width="23.3" height="62.20" fill="#f2bd84" stroke="#3c3c3c" stroke-width="0.9"/>
<rect x="432.95" y="558.2" width="23.3" height="62.20" fill="#bef7e1" stroke="#3c3c3c" stroke-width="0.9"/>
<circle cx="305.4" cy="575.8" r="2.4" fill="#f3a2a7" stroke="#2a2a2a" stroke-width="0.75"/>
<circle cx="305.4" cy="584.2" r="2.4" fill="#f3a2a7" stroke="#2a2a2a" stroke-width="0.75"/>
<circle cx="301.6" cy="591.3" r="2.4" fill="#f3a2a7" stroke="#2a2a2a" stroke-width="0.75"/>
<circle cx="309.2" cy="592.5" r="2.4" fill="#f3a2a7" stroke="#2a2a2a" stroke-width="0.75"/>
<circle cx="296.6" cy="597.5" r="2.4" fill="#f3a2a7" stroke="#2a2a2a" stroke-width="0.75"/>
<circle cx="314.2" cy="597" r="2.4" fill="#f3a2a7" stroke="#2a2a2a" stroke-width="0.75"/>
<circle cx="302.4" cy="600.8" r="2.4" fill="#f3a2a7" stroke="#2a2a2a" stroke-width="0.75"/>
<circle cx="308.4" cy="600" r="2.4" fill="#f3a2a7" stroke="#2a2a2a" stroke-width="0.75"/>
<circle cx="336.7" cy="537.2" r="2.4" fill="#98c5f4" stroke="#2a2a2a" stroke-width="0.75"/>
<circle cx="344" cy="537.2" r="2.4" fill="#98c5f4" stroke="#2a2a2a" stroke-width="0.75"/>
<circle cx="340.2" cy="550.9" r="2.4" fill="#98c5f4" stroke="#2a2a2a" stroke-width="0.75"/>
<circle cx="336.7" cy="557.2" r="2.4" fill="#98c5f4" stroke="#2a2a2a" stroke-width="0.75"/>
<circle cx="344" cy="563.3" r="2.4" fill="#98c5f4" stroke="#2a2a2a" stroke-width="0.75"/>
<circle cx="333.4" cy="567.2" r="2.4" fill="#98c5f4" stroke="#2a2a2a" stroke-width="0.75"/>
<circle cx="347.5" cy="570.5" r="2.4" fill="#98c5f4" stroke="#2a2a2a" stroke-width="0.75"/>
<circle cx="340.2" cy="574.3" r="2.4" fill="#98c5f4" stroke="#2a2a2a" stroke-width="0.75"/>
<circle cx="375" cy="537.2" r="2.4" fill="#f2aaf0" stroke="#2a2a2a" stroke-width="0.75"/>
<circle cx="375" cy="555.7" r="2.4" fill="#f2aaf0" stroke="#2a2a2a" stroke-width="0.75"/>
<circle cx="366.4" cy="559.2" r="2.4" fill="#f2aaf0" stroke="#2a2a2a" stroke-width="0.75"/>
<circle cx="372" cy="560.7" r="2.4" fill="#f2aaf0" stroke="#2a2a2a" stroke-width="0.75"/>
<circle cx="378" cy="563.3" r="2.4" fill="#f2aaf0" stroke="#2a2a2a" stroke-width="0.75"/>
<circle cx="383.6" cy="560" r="2.4" fill="#f2aaf0" stroke="#2a2a2a" stroke-width="0.75"/>
<circle cx="378.5" cy="570.8" r="2.4" fill="#f2aaf0" stroke="#2a2a2a" stroke-width="0.75"/>
<circle cx="371.5" cy="573.3" r="2.4" fill="#f2aaf0" stroke="#2a2a2a" stroke-width="0.75"/>
<circle cx="409.7" cy="526" r="2.4" fill="#f2bd84" stroke="#2a2a2a" stroke-width="0.75"/>
<circle cx="409.7" cy="544.9" r="2.4" fill="#f2bd84" stroke="#2a2a2a" stroke-width="0.75"/>
<circle cx="402.9" cy="557.5" r="2.4" fill="#f2bd84" stroke="#2a2a2a" stroke-width="0.75"/>
<circle cx="413.4" cy="557" r="2.4" fill="#f2bd84" stroke="#2a2a2a" stroke-width="0.75"/>
<circle cx="406.3" cy="560.2" r="2.4" fill="#f2bd84" stroke="#2a2a2a" stroke-width="0.75"/>
<circle cx="413.4" cy="565.8" r="2.4" fill="#f2bd84" stroke="#2a2a2a" stroke-width="0.75"/>
<circle cx="406.3" cy="578.6" r="2.4" fill="#f2bd84" stroke="#2a2a2a" stroke-width="0.75"/>
<circle cx="413" cy="577.9" r="2.4" fill="#f2bd84" stroke="#2a2a2a" stroke-width="0.75"/>
<circle cx="444.4" cy="533.6" r="2.4" fill="#bef7e1" stroke="#2a2a2a" stroke-width="0.75"/>
<circle cx="444.4" cy="542.6" r="2.4" fill="#bef7e1" stroke="#2a2a2a" stroke-width="0.75"/>
<circle cx="435.8" cy="554.4" r="2.4" fill="#bef7e1" stroke="#2a2a2a" stroke-width="0.75"/>
<circle cx="441.4" cy="556.4" r="2.4" fill="#bef7e1" stroke="#2a2a2a" stroke-width="0.75"/>
<circle cx="447.5" cy="559" r="2.4" fill="#bef7e1" stroke="#2a2a2a" stroke-width="0.75"/>
<circle cx="453.2" cy="555.6" r="2.4" fill="#bef7e1" stroke="#2a2a2a" stroke-width="0.75"/>
<circle cx="447.9" cy="578.6" r="2.4" fill="#bef7e1" stroke="#2a2a2a" stroke-width="0.75"/>
<circle cx="441.1" cy="582.4" r="2.4" fill="#bef7e1" stroke="#2a2a2a" stroke-width="0.75"/>
<line x1="305.6" y1="584.2" x2="305.6" y2="600.8" stroke="#222" stroke-width="0.9"/>
<line x1="299.6" y1="584.2" x2="311.6" y2="584.2" stroke="#222" stroke-width="0.9"/>
<line x1="299.6" y1="600.8" x2="311.6" y2="600.8" stroke="#222" stroke-width="0.9"/>
<line x1="340.0" y1="542.5" x2="340.0" y2="571.3" stroke="#222" stroke-width="0.9"/>
<line x1="334.0" y1="542.5" x2="346.0" y2="542.5" stroke="#222" stroke-width="0.9"/>
<line x1="334.0" y1="571.3" x2="346.0" y2="571.3" stroke="#222" stroke-width="0.9"/>
<line x1="375.0" y1="549.3" x2="375.0" y2="571.3" stroke="#222" stroke-width="0.9"/>
<line x1="369.0" y1="549.3" x2="381.0" y2="549.3" stroke="#222" stroke-width="0.9"/>
<line x1="369.0" y1="571.3" x2="381.0" y2="571.3" stroke="#222" stroke-width="0.9"/>
<line x1="409.8" y1="541.3" x2="409.8" y2="575.2" stroke="#222" stroke-width="0.9"/>
<line x1="403.8" y1="541.3" x2="415.8" y2="541.3" stroke="#222" stroke-width="0.9"/>
<line x1="403.8" y1="575.2" x2="415.8" y2="575.2" stroke="#222" stroke-width="0.9"/>
<line x1="444.6" y1="541.6" x2="444.6" y2="574.4" stroke="#222" stroke-width="0.9"/>
<line x1="438.6" y1="541.6" x2="450.6" y2="541.6" stroke="#222" stroke-width="0.9"/>
<line x1="438.6" y1="574.4" x2="450.6" y2="574.4" stroke="#222" stroke-width="0.9"/>
<line x1="288.1" y1="504.2" x2="288.1" y2="620.9" stroke="#2a2a2a" stroke-width="1.2"/>
<line x1="287.6" y1="620.4" x2="462.8" y2="620.4" stroke="#2a2a2a" stroke-width="1.2"/>
<line x1="284.70000000000005" y1="504.7" x2="288.1" y2="504.7" stroke="#2a2a2a" stroke-width="1.1"/>
<text x="283.4" y="507.7" font-size="8.6" font-weight="bold" fill="#1c1c1c" text-anchor="end">50</text>
<line x1="284.70000000000005" y1="527.7" x2="288.1" y2="527.7" stroke="#2a2a2a" stroke-width="1.1"/>
<text x="283.4" y="530.7" font-size="8.6" font-weight="bold" fill="#1c1c1c" text-anchor="end">40</text>
<line x1="284.70000000000005" y1="551.0" x2="288.1" y2="551.0" stroke="#2a2a2a" stroke-width="1.1"/>
<text x="283.4" y="554.0" font-size="8.6" font-weight="bold" fill="#1c1c1c" text-anchor="end">30</text>
<line x1="284.70000000000005" y1="574.0" x2="288.1" y2="574.0" stroke="#2a2a2a" stroke-width="1.1"/>
<text x="283.4" y="577.0" font-size="8.6" font-weight="bold" fill="#1c1c1c" text-anchor="end">20</text>
<line x1="284.70000000000005" y1="597.4" x2="288.1" y2="597.4" stroke="#2a2a2a" stroke-width="1.1"/>
<text x="283.4" y="600.4" font-size="8.6" font-weight="bold" fill="#1c1c1c" text-anchor="end">10</text>
<line x1="284.70000000000005" y1="620.4" x2="288.1" y2="620.4" stroke="#2a2a2a" stroke-width="1.1"/>
<text x="283.4" y="623.4" font-size="8.6" font-weight="bold" fill="#1c1c1c" text-anchor="end">0</text>
<line x1="305.6" y1="620.4" x2="305.6" y2="624.0" stroke="#2a2a2a" stroke-width="1"/>
<g transform="translate(302.75,640.65) rotate(-45)"><text x="0" y="4.0" font-size="11.6" font-weight="bold" fill="#1c1c1c" text-anchor="middle">CTR</text></g>
<line x1="340.0" y1="620.4" x2="340.0" y2="624.0" stroke="#2a2a2a" stroke-width="1"/>
<g transform="translate(335.75,640.85) rotate(-45)"><text x="0" y="4.0" font-size="11.6" font-weight="bold" fill="#1c1c1c" text-anchor="middle">MOD</text></g>
<line x1="375.0" y1="620.4" x2="375.0" y2="624.0" stroke="#2a2a2a" stroke-width="1"/>
<g transform="translate(369.75,641.45) rotate(-45)"><text x="0" y="4.0" font-size="11.6" font-weight="bold" fill="#1c1c1c" text-anchor="middle">L-SMD</text></g>
<line x1="409.8" y1="620.4" x2="409.8" y2="624.0" stroke="#2a2a2a" stroke-width="1"/>
<g transform="translate(404.35,641.45) rotate(-45)"><text x="0" y="4.0" font-size="11.6" font-weight="bold" fill="#1c1c1c" text-anchor="middle">H-SMD</text></g>
<line x1="444.6" y1="620.4" x2="444.6" y2="624.0" stroke="#2a2a2a" stroke-width="1"/>
<g transform="translate(441.45,640.65) rotate(-45)"><text x="0" y="4.0" font-size="11.6" font-weight="bold" fill="#1c1c1c" text-anchor="middle">ALP</text></g>
<g transform="translate(260.4,563.9) rotate(-90)"><text x="0" y="0" font-size="11.6" font-weight="bold" fill="#1c1c1c" text-anchor="middle" textLength="94.4" lengthAdjust="spacingAndGlyphs">Urine volume(ml)</text></g>
<text x="468.4" y="483.3" font-size="14.1" font-weight="bold" fill="#1c1c1c">G</text>
<path d="M525.4,554.5 L525.4,502.1 L560.8,502.1 L560.8,513.3" fill="none" stroke="#6a6a6a" stroke-width="1"/>
<text x="542.9" y="502.5" font-size="7.6" font-weight="bold" fill="#2a2a2a" text-anchor="middle" textLength="7.6" lengthAdjust="spacingAndGlyphs">**</text>
<rect x="514.40" y="576.3" width="23.6" height="45.10" fill="#f3a2a7" stroke="#3c3c3c" stroke-width="0.9"/>
<rect x="549.20" y="550.2" width="23.6" height="71.20" fill="#98c5f4" stroke="#3c3c3c" stroke-width="0.9"/>
<rect x="584.20" y="559.8" width="23.6" height="61.60" fill="#f2aaf0" stroke="#3c3c3c" stroke-width="0.9"/>
<rect x="618.80" y="564.2" width="23.6" height="57.20" fill="#f2bd84" stroke="#3c3c3c" stroke-width="0.9"/>
<rect x="653.50" y="545.7" width="23.6" height="75.70" fill="#bef7e1" stroke="#3c3c3c" stroke-width="0.9"/>
<circle cx="526.3" cy="566.4" r="2.4" fill="#f3a2a7" stroke="#2a2a2a" stroke-width="0.75"/>
<circle cx="519.2" cy="573.1" r="2.4" fill="#f3a2a7" stroke="#2a2a2a" stroke-width="0.75"/>
<circle cx="533.3" cy="571.2" r="2.4" fill="#f3a2a7" stroke="#2a2a2a" stroke-width="0.75"/>
<circle cx="525.9" cy="575.2" r="2.4" fill="#f3a2a7" stroke="#2a2a2a" stroke-width="0.75"/>
<circle cx="517.1" cy="579.1" r="2.4" fill="#f3a2a7" stroke="#2a2a2a" stroke-width="0.75"/>
<circle cx="534.9" cy="578.3" r="2.4" fill="#f3a2a7" stroke="#2a2a2a" stroke-width="0.75"/>
<circle cx="529" cy="581.5" r="2.4" fill="#f3a2a7" stroke="#2a2a2a" stroke-width="0.75"/>
<circle cx="523.5" cy="584.7" r="2.4" fill="#f3a2a7" stroke="#2a2a2a" stroke-width="0.75"/>
<circle cx="560.8" cy="520.1" r="2.4" fill="#98c5f4" stroke="#2a2a2a" stroke-width="0.75"/>
<circle cx="560.8" cy="531.2" r="2.4" fill="#98c5f4" stroke="#2a2a2a" stroke-width="0.75"/>
<circle cx="552.4" cy="552.1" r="2.4" fill="#98c5f4" stroke="#2a2a2a" stroke-width="0.75"/>
<circle cx="558.1" cy="556.9" r="2.4" fill="#98c5f4" stroke="#2a2a2a" stroke-width="0.75"/>
<circle cx="564" cy="556.9" r="2.4" fill="#98c5f4" stroke="#2a2a2a" stroke-width="0.75"/>
<circle cx="569.8" cy="556.9" r="2.4" fill="#98c5f4" stroke="#2a2a2a" stroke-width="0.75"/>
<circle cx="564.4" cy="562.5" r="2.4" fill="#98c5f4" stroke="#2a2a2a" stroke-width="0.75"/>
<circle cx="557.3" cy="565.3" r="2.4" fill="#98c5f4" stroke="#2a2a2a" stroke-width="0.75"/>
<circle cx="595.7" cy="512.1" r="2.4" fill="#f2aaf0" stroke="#2a2a2a" stroke-width="0.75"/>
<circle cx="595.7" cy="536.6" r="2.4" fill="#f2aaf0" stroke="#2a2a2a" stroke-width="0.75"/>
<circle cx="595.7" cy="556.1" r="2.4" fill="#f2aaf0" stroke="#2a2a2a" stroke-width="0.75"/>
<circle cx="587" cy="568.8" r="2.4" fill="#f2aaf0" stroke="#2a2a2a" stroke-width="0.75"/>
<circle cx="604.4" cy="571.2" r="2.4" fill="#f2aaf0" stroke="#2a2a2a" stroke-width="0.75"/>
<circle cx="592.5" cy="574" r="2.4" fill="#f2aaf0" stroke="#2a2a2a" stroke-width="0.75"/>
<circle cx="598.9" cy="574" r="2.4" fill="#f2aaf0" stroke="#2a2a2a" stroke-width="0.75"/>
<circle cx="595.7" cy="585.8" r="2.4" fill="#f2aaf0" stroke="#2a2a2a" stroke-width="0.75"/>
<circle cx="623.6" cy="553.6" r="2.4" fill="#f2bd84" stroke="#2a2a2a" stroke-width="0.75"/>
<circle cx="637.6" cy="553.6" r="2.4" fill="#f2bd84" stroke="#2a2a2a" stroke-width="0.75"/>
<circle cx="630.4" cy="559.3" r="2.4" fill="#f2bd84" stroke="#2a2a2a" stroke-width="0.75"/>
<circle cx="637.6" cy="562" r="2.4" fill="#f2bd84" stroke="#2a2a2a" stroke-width="0.75"/>
<circle cx="623.6" cy="565.8" r="2.4" fill="#f2bd84" stroke="#2a2a2a" stroke-width="0.75"/>
<circle cx="630.4" cy="567.2" r="2.4" fill="#f2bd84" stroke="#2a2a2a" stroke-width="0.75"/>
<circle cx="633.8" cy="572.6" r="2.4" fill="#f2bd84" stroke="#2a2a2a" stroke-width="0.75"/>
<circle cx="627" cy="578.7" r="2.4" fill="#f2bd84" stroke="#2a2a2a" stroke-width="0.75"/>
<circle cx="661.7" cy="517.5" r="2.4" fill="#bef7e1" stroke="#2a2a2a" stroke-width="0.75"/>
<circle cx="668.9" cy="523.3" r="2.4" fill="#bef7e1" stroke="#2a2a2a" stroke-width="0.75"/>
<circle cx="661.7" cy="545.7" r="2.4" fill="#bef7e1" stroke="#2a2a2a" stroke-width="0.75"/>
<circle cx="668.8" cy="544.7" r="2.4" fill="#bef7e1" stroke="#2a2a2a" stroke-width="0.75"/>
<circle cx="658.3" cy="550.6" r="2.4" fill="#bef7e1" stroke="#2a2a2a" stroke-width="0.75"/>
<circle cx="672.3" cy="549.2" r="2.4" fill="#bef7e1" stroke="#2a2a2a" stroke-width="0.75"/>
<circle cx="665.4" cy="554.9" r="2.4" fill="#bef7e1" stroke="#2a2a2a" stroke-width="0.75"/>
<circle cx="665.4" cy="577.4" r="2.4" fill="#bef7e1" stroke="#2a2a2a" stroke-width="0.75"/>
<line x1="526.2" y1="570.4" x2="526.2" y2="582.0" stroke="#222" stroke-width="0.9"/>
<line x1="520.2" y1="570.4" x2="532.2" y2="570.4" stroke="#222" stroke-width="0.9"/>
<line x1="520.2" y1="582.0" x2="532.2" y2="582.0" stroke="#222" stroke-width="0.9"/>
<line x1="561.0" y1="534.2" x2="561.0" y2="566.1" stroke="#222" stroke-width="0.9"/>
<line x1="555.0" y1="534.2" x2="567.0" y2="534.2" stroke="#222" stroke-width="0.9"/>
<line x1="555.0" y1="566.1" x2="567.0" y2="566.1" stroke="#222" stroke-width="0.9"/>
<line x1="596.0" y1="535.8" x2="596.0" y2="584.4" stroke="#222" stroke-width="0.9"/>
<line x1="590.0" y1="535.8" x2="602.0" y2="535.8" stroke="#222" stroke-width="0.9"/>
<line x1="590.0" y1="584.4" x2="602.0" y2="584.4" stroke="#222" stroke-width="0.9"/>
<line x1="630.6" y1="554.9" x2="630.6" y2="573.3" stroke="#222" stroke-width="0.9"/>
<line x1="624.6" y1="554.9" x2="636.6" y2="554.9" stroke="#222" stroke-width="0.9"/>
<line x1="624.6" y1="573.3" x2="636.6" y2="573.3" stroke="#222" stroke-width="0.9"/>
<line x1="665.3" y1="527.0" x2="665.3" y2="564.2" stroke="#222" stroke-width="0.9"/>
<line x1="659.3" y1="527.0" x2="671.3" y2="527.0" stroke="#222" stroke-width="0.9"/>
<line x1="659.3" y1="564.2" x2="671.3" y2="564.2" stroke="#222" stroke-width="0.9"/>
<line x1="509.0" y1="505.2" x2="509.0" y2="621.9" stroke="#2a2a2a" stroke-width="1.2"/>
<line x1="508.5" y1="621.4" x2="683.5" y2="621.4" stroke="#2a2a2a" stroke-width="1.2"/>
<line x1="505.6" y1="505.7" x2="509.0" y2="505.7" stroke="#2a2a2a" stroke-width="1.1"/>
<text x="504.3" y="508.7" font-size="8.6" font-weight="bold" fill="#1c1c1c" text-anchor="end">6</text>
<line x1="505.6" y1="544.3" x2="509.0" y2="544.3" stroke="#2a2a2a" stroke-width="1.1"/>
<text x="504.3" y="547.3" font-size="8.6" font-weight="bold" fill="#1c1c1c" text-anchor="end">4</text>
<line x1="505.6" y1="582.8" x2="509.0" y2="582.8" stroke="#2a2a2a" stroke-width="1.1"/>
<text x="504.3" y="585.8" font-size="8.6" font-weight="bold" fill="#1c1c1c" text-anchor="end">2</text>
<line x1="505.6" y1="621.3" x2="509.0" y2="621.3" stroke="#2a2a2a" stroke-width="1.1"/>
<text x="504.3" y="624.3" font-size="8.6" font-weight="bold" fill="#1c1c1c" text-anchor="end">0</text>
<line x1="526.2" y1="621.4" x2="526.2" y2="625.0" stroke="#2a2a2a" stroke-width="1"/>
<g transform="translate(522.85,642.55) rotate(-45)"><text x="0" y="4.0" font-size="11.6" font-weight="bold" fill="#1c1c1c" text-anchor="middle">CTR</text></g>
<line x1="561.0" y1="621.4" x2="561.0" y2="625.0" stroke="#2a2a2a" stroke-width="1"/>
<g transform="translate(556.25,642.75) rotate(-45)"><text x="0" y="4.0" font-size="11.6" font-weight="bold" fill="#1c1c1c" text-anchor="middle">MOD</text></g>
<line x1="596.0" y1="621.4" x2="596.0" y2="625.0" stroke="#2a2a2a" stroke-width="1"/>
<g transform="translate(590.25,643.35) rotate(-45)"><text x="0" y="4.0" font-size="11.6" font-weight="bold" fill="#1c1c1c" text-anchor="middle">L-SMD</text></g>
<line x1="630.6" y1="621.4" x2="630.6" y2="625.0" stroke="#2a2a2a" stroke-width="1"/>
<g transform="translate(624.65,643.35) rotate(-45)"><text x="0" y="4.0" font-size="11.6" font-weight="bold" fill="#1c1c1c" text-anchor="middle">H-SMD</text></g>
<line x1="665.3" y1="621.4" x2="665.3" y2="625.0" stroke="#2a2a2a" stroke-width="1"/>
<g transform="translate(661.65,642.55) rotate(-45)"><text x="0" y="4.0" font-size="11.6" font-weight="bold" fill="#1c1c1c" text-anchor="middle">ALP</text></g>
<g transform="translate(489.1,567.4) rotate(-90)"><text x="0" y="0" font-size="11.6" font-weight="bold" fill="#1c1c1c" text-anchor="middle" textLength="67.4" lengthAdjust="spacingAndGlyphs">24h Pro(mg)</text></g>
</svg>
</body></html>
